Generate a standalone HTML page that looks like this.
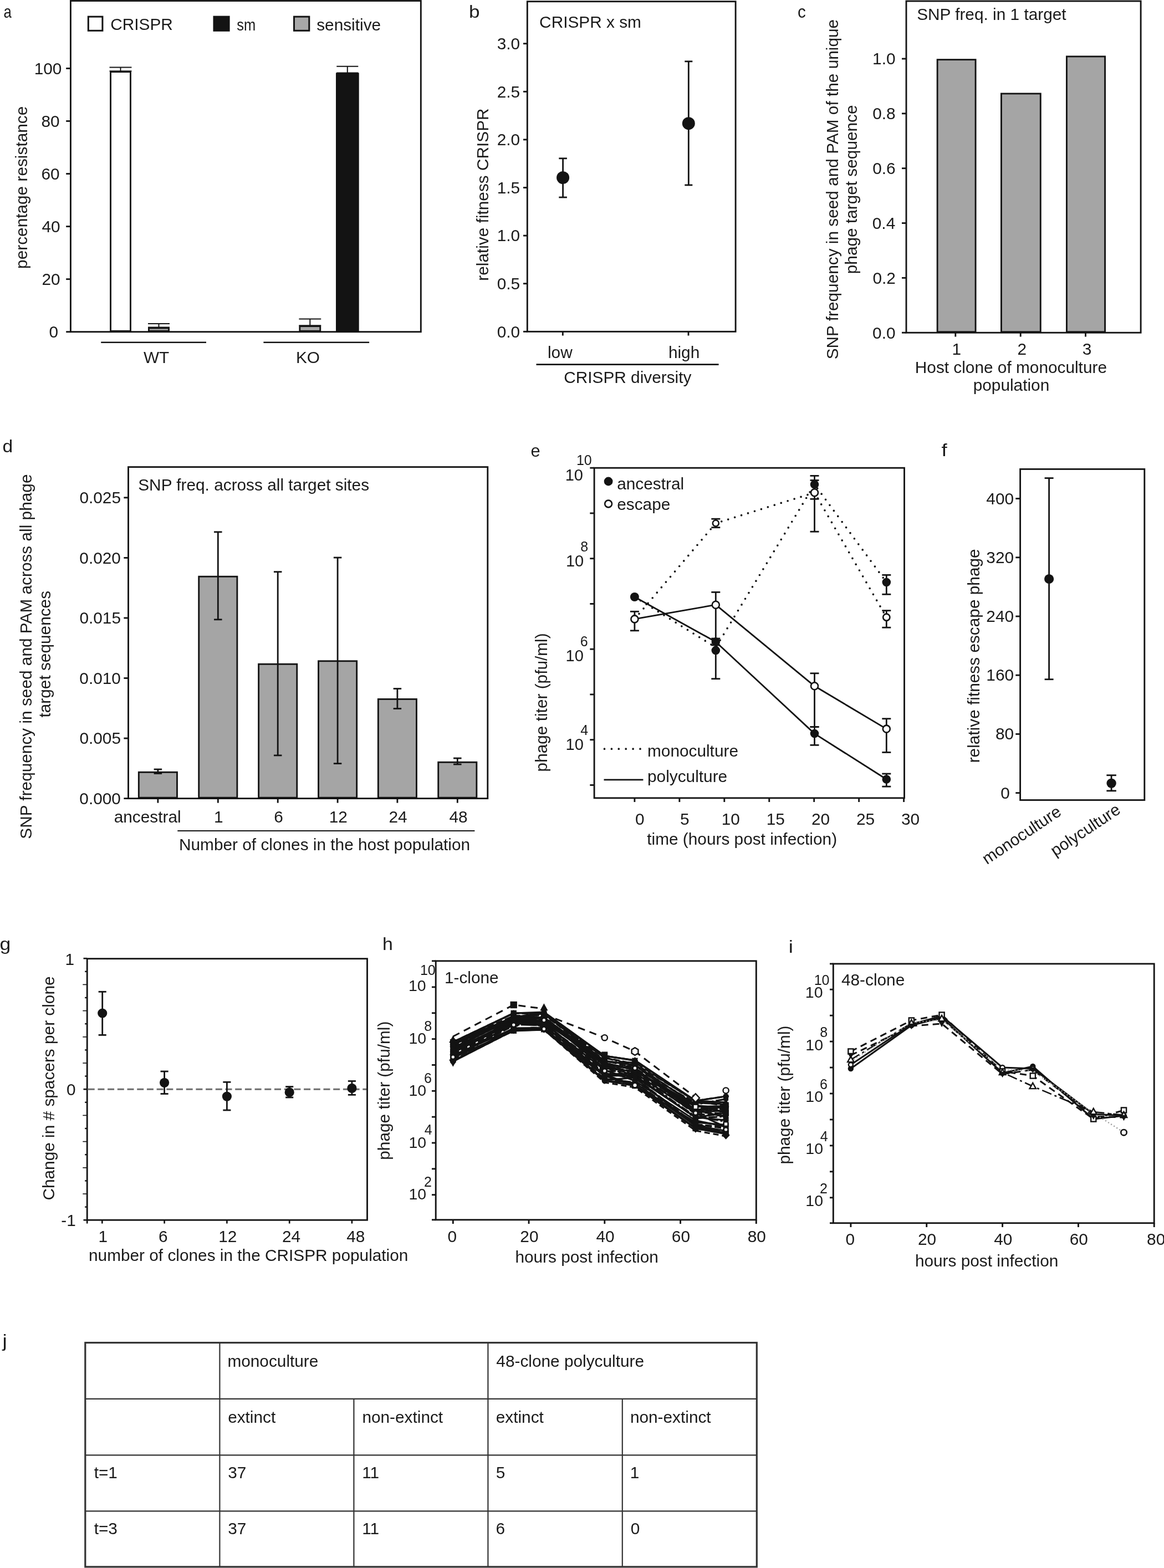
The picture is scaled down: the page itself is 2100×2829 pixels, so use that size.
<!DOCTYPE html>
<html><head><meta charset="utf-8"><title>Figure</title>
<style>html,body{margin:0;padding:0;background:#fff;} svg{display:block;} text{font-family:"Liberation Sans",Arial,Helvetica,sans-serif;}</style>
</head><body>
<svg width="2100" height="2829" viewBox="0 0 2100 2829">
<rect x="0" y="0" width="2100" height="2829" fill="#ffffff"/>
<text transform="translate(14.25,32) scale(0.807,1)" x="-9.6" y="0" font-size="32" fill="#1a1a1a">a</text>
<rect x="127.4" y="1.5" width="631.9" height="597.2" fill="none" stroke="#131313" stroke-width="2.85"/>
<line x1="119.2" y1="598.7" x2="127.4" y2="598.7" stroke="#131313" stroke-width="2.85" stroke-linecap="butt"/>
<line x1="119.2" y1="503.64" x2="127.4" y2="503.64" stroke="#131313" stroke-width="2.85" stroke-linecap="butt"/>
<line x1="119.2" y1="408.58" x2="127.4" y2="408.58" stroke="#131313" stroke-width="2.85" stroke-linecap="butt"/>
<line x1="119.2" y1="313.52" x2="127.4" y2="313.52" stroke="#131313" stroke-width="2.85" stroke-linecap="butt"/>
<line x1="119.2" y1="218.46" x2="127.4" y2="218.46" stroke="#131313" stroke-width="2.85" stroke-linecap="butt"/>
<line x1="119.2" y1="123.4" x2="127.4" y2="123.4" stroke="#131313" stroke-width="2.85" stroke-linecap="butt"/>
<text x="61.63" y="133.7" font-size="29.8" fill="#1a1a1a">100</text>
<text x="74.54" y="228.76" font-size="29.8" fill="#1a1a1a">80</text>
<text x="74.54" y="323.82" font-size="29.8" fill="#1a1a1a">60</text>
<text x="75.54" y="418.88" font-size="29.8" fill="#1a1a1a">40</text>
<text x="75.54" y="513.94" font-size="29.8" fill="#1a1a1a">20</text>
<text x="88.58" y="609" font-size="29.8" fill="#1a1a1a">0</text>
<rect x="199.53" y="129.62" width="35.95" height="467.65" fill="#ffffff" stroke="#131313" stroke-width="2.85"/>
<line x1="217.5" y1="121.4" x2="217.5" y2="128.2" stroke="#131313" stroke-width="2" stroke-linecap="butt"/>
<line x1="197.55" y1="121.4" x2="237.45" y2="121.4" stroke="#131313" stroke-width="2" stroke-linecap="butt"/>
<line x1="197.55" y1="128.2" x2="237.45" y2="128.2" stroke="#131313" stroke-width="2" stroke-linecap="butt"/>
<rect x="268.43" y="591.92" width="36.15" height="5.35" fill="#a8a8a8" stroke="#131313" stroke-width="2.85"/>
<line x1="286.5" y1="584" x2="286.5" y2="590.5" stroke="#131313" stroke-width="2" stroke-linecap="butt"/>
<line x1="267" y1="584" x2="306" y2="584" stroke="#131313" stroke-width="2" stroke-linecap="butt"/>
<line x1="267" y1="590.5" x2="306" y2="590.5" stroke="#131313" stroke-width="2" stroke-linecap="butt"/>
<rect x="540.82" y="588.62" width="36.95" height="8.65" fill="#a8a8a8" stroke="#131313" stroke-width="2.85"/>
<line x1="559.3" y1="575.4" x2="559.3" y2="587.2" stroke="#131313" stroke-width="2" stroke-linecap="butt"/>
<line x1="539.4" y1="575.4" x2="579.2" y2="575.4" stroke="#131313" stroke-width="2" stroke-linecap="butt"/>
<line x1="539.4" y1="587.2" x2="579.2" y2="587.2" stroke="#131313" stroke-width="2" stroke-linecap="butt"/>
<rect x="607.42" y="132.83" width="38.85" height="464.45" fill="#131313" stroke="#131313" stroke-width="2.85"/>
<line x1="626.8" y1="119.7" x2="626.8" y2="131.4" stroke="#131313" stroke-width="2" stroke-linecap="butt"/>
<line x1="607.3" y1="119.7" x2="646.3" y2="119.7" stroke="#131313" stroke-width="2" stroke-linecap="butt"/>
<line x1="607.3" y1="131.4" x2="646.3" y2="131.4" stroke="#131313" stroke-width="2" stroke-linecap="butt"/>
<rect x="159.3" y="30.1" width="25.6" height="25.2" fill="#ffffff" stroke="#131313" stroke-width="3"/>
<text x="199.31" y="54.3" font-size="29.8" fill="#1a1a1a">CRISPR</text>
<rect x="385.93" y="30.03" width="27.25" height="25.35" fill="#131313" stroke="#131313" stroke-width="2.85"/>
<text x="427.18" y="54.7" font-size="29.8" fill="#1a1a1a" textLength="34" lengthAdjust="spacingAndGlyphs">sm</text>
<rect x="530.5" y="30.1" width="27.3" height="25.2" fill="#a8a8a8" stroke="#131313" stroke-width="3"/>
<text x="571.18" y="54.7" font-size="29.8" fill="#1a1a1a">sensitive</text>
<line x1="182.2" y1="617.8" x2="372" y2="617.8" stroke="#131313" stroke-width="2.6" stroke-linecap="butt"/>
<line x1="475.4" y1="617.8" x2="666.1" y2="617.8" stroke="#131313" stroke-width="2.6" stroke-linecap="butt"/>
<text x="258.89" y="654.7" font-size="29.8" fill="#1a1a1a">WT</text>
<text x="533.95" y="654.7" font-size="29.8" fill="#1a1a1a">KO</text>
<text transform="translate(49.2,484.91) rotate(-90)" font-size="29.8" fill="#1a1a1a">percentage resistance</text>
<text transform="translate(856.1,32) scale(1.097,1)" x="-9.28" y="0" font-size="32" fill="#1a1a1a">b</text>
<rect x="951.3" y="2.7" width="375.8" height="595.6" fill="none" stroke="#131313" stroke-width="2.85"/>
<line x1="944" y1="598.3" x2="951.3" y2="598.3" stroke="#131313" stroke-width="2.85" stroke-linecap="butt"/>
<text x="896.7" y="608.6" font-size="29.8" fill="#1a1a1a">0.0</text>
<line x1="944" y1="511.7" x2="951.3" y2="511.7" stroke="#131313" stroke-width="2.85" stroke-linecap="butt"/>
<text x="896.77" y="522" font-size="29.8" fill="#1a1a1a">0.5</text>
<line x1="944" y1="425.1" x2="951.3" y2="425.1" stroke="#131313" stroke-width="2.85" stroke-linecap="butt"/>
<text x="896.7" y="435.4" font-size="29.8" fill="#1a1a1a">1.0</text>
<line x1="944" y1="338.5" x2="951.3" y2="338.5" stroke="#131313" stroke-width="2.85" stroke-linecap="butt"/>
<text x="896.77" y="348.8" font-size="29.8" fill="#1a1a1a">1.5</text>
<line x1="944" y1="251.9" x2="951.3" y2="251.9" stroke="#131313" stroke-width="2.85" stroke-linecap="butt"/>
<text x="896.7" y="262.2" font-size="29.8" fill="#1a1a1a">2.0</text>
<line x1="944" y1="165.3" x2="951.3" y2="165.3" stroke="#131313" stroke-width="2.85" stroke-linecap="butt"/>
<text x="896.77" y="175.6" font-size="29.8" fill="#1a1a1a">2.5</text>
<line x1="944" y1="78.7" x2="951.3" y2="78.7" stroke="#131313" stroke-width="2.85" stroke-linecap="butt"/>
<text x="896.7" y="89" font-size="29.8" fill="#1a1a1a">3.0</text>
<line x1="1015.3" y1="598.3" x2="1015.3" y2="605.5" stroke="#131313" stroke-width="2.85" stroke-linecap="butt"/>
<line x1="1242" y1="598.3" x2="1242" y2="605.5" stroke="#131313" stroke-width="2.85" stroke-linecap="butt"/>
<line x1="1015.6" y1="285.8" x2="1015.6" y2="356" stroke="#131313" stroke-width="2.8" stroke-linecap="butt"/>
<line x1="1008.3" y1="285.8" x2="1022.9" y2="285.8" stroke="#131313" stroke-width="2.8" stroke-linecap="butt"/>
<line x1="1008.3" y1="356" x2="1022.9" y2="356" stroke="#131313" stroke-width="2.8" stroke-linecap="butt"/>
<circle cx="1015.6" cy="320.5" r="11.5" fill="#131313"/>
<line x1="1242.3" y1="110.8" x2="1242.3" y2="333.9" stroke="#131313" stroke-width="2.8" stroke-linecap="butt"/>
<line x1="1235.3" y1="110.8" x2="1249.3" y2="110.8" stroke="#131313" stroke-width="2.8" stroke-linecap="butt"/>
<line x1="1235.3" y1="333.9" x2="1249.3" y2="333.9" stroke="#131313" stroke-width="2.8" stroke-linecap="butt"/>
<circle cx="1242.3" cy="222.7" r="11.5" fill="#131313"/>
<text x="973.11" y="49.8" font-size="29.8" fill="#1a1a1a">CRISPR x sm</text>
<text x="987.99" y="646" font-size="29.8" fill="#1a1a1a">low</text>
<text x="1205.91" y="646" font-size="29.8" fill="#1a1a1a">high</text>
<line x1="967.5" y1="657.6" x2="1296.6" y2="657.6" stroke="#131313" stroke-width="2.6" stroke-linecap="butt"/>
<text x="1017.21" y="690.8" font-size="29.8" fill="#1a1a1a">CRISPR diversity</text>
<text transform="translate(881.4,506.73) rotate(-90)" font-size="29.8" fill="#1a1a1a">relative fitness CRISPR</text>
<text transform="translate(1446.5,32.3) scale(0.923,1)" x="-8.24" y="0" font-size="32" fill="#1a1a1a">c</text>
<rect x="1635" y="2" width="423.1" height="598.2" fill="none" stroke="#131313" stroke-width="2.85"/>
<line x1="1627" y1="600.2" x2="1635" y2="600.2" stroke="#131313" stroke-width="2.85" stroke-linecap="butt"/>
<text x="1574.1" y="610.5" font-size="29.8" fill="#1a1a1a">0.0</text>
<line x1="1627" y1="501.36" x2="1635" y2="501.36" stroke="#131313" stroke-width="2.85" stroke-linecap="butt"/>
<text x="1574.47" y="511.66" font-size="29.8" fill="#1a1a1a">0.2</text>
<line x1="1627" y1="402.52" x2="1635" y2="402.52" stroke="#131313" stroke-width="2.85" stroke-linecap="butt"/>
<text x="1573.8" y="412.82" font-size="29.8" fill="#1a1a1a">0.4</text>
<line x1="1627" y1="303.68" x2="1635" y2="303.68" stroke="#131313" stroke-width="2.85" stroke-linecap="butt"/>
<text x="1574.24" y="313.98" font-size="29.8" fill="#1a1a1a">0.6</text>
<line x1="1627" y1="204.84" x2="1635" y2="204.84" stroke="#131313" stroke-width="2.85" stroke-linecap="butt"/>
<text x="1574.24" y="215.14" font-size="29.8" fill="#1a1a1a">0.8</text>
<line x1="1627" y1="106" x2="1635" y2="106" stroke="#131313" stroke-width="2.85" stroke-linecap="butt"/>
<text x="1574.1" y="116.3" font-size="29.8" fill="#1a1a1a">1.0</text>
<rect x="1691.12" y="107.62" width="68.95" height="491.15" fill="#a5a5a5" stroke="#131313" stroke-width="2.85"/>
<rect x="1806.42" y="168.93" width="70.85" height="429.85" fill="#a5a5a5" stroke="#131313" stroke-width="2.85"/>
<rect x="1924.42" y="101.92" width="69.15" height="496.85" fill="#a5a5a5" stroke="#131313" stroke-width="2.85"/>
<line x1="1723.8" y1="600.2" x2="1723.8" y2="607.5" stroke="#131313" stroke-width="2.85" stroke-linecap="butt"/>
<text x="1717.62" y="639.5" font-size="29.8" fill="#1a1a1a">1</text>
<line x1="1841.2" y1="600.2" x2="1841.2" y2="607.5" stroke="#131313" stroke-width="2.85" stroke-linecap="butt"/>
<text x="1835.43" y="639.5" font-size="29.8" fill="#1a1a1a">2</text>
<line x1="1958.5" y1="600.2" x2="1958.5" y2="607.5" stroke="#131313" stroke-width="2.85" stroke-linecap="butt"/>
<text x="1952.81" y="639.5" font-size="29.8" fill="#1a1a1a">3</text>
<text x="1654.16" y="36.2" font-size="29.8" fill="#1a1a1a">SNP freq. in 1 target</text>
<text x="1650.8" y="673" font-size="29.8" fill="#1a1a1a">Host clone of monoculture</text>
<text x="1755.7" y="705.4" font-size="29.8" fill="#1a1a1a">population</text>
<text transform="translate(1512,648.29) rotate(-90)" font-size="29.8" fill="#1a1a1a">SNP frequency in seed and PAM of the unique</text>
<text transform="translate(1546,494.26) rotate(-90)" font-size="29.8" fill="#1a1a1a">phage target sequence</text>
<text transform="translate(13.35,816) scale(1.049,1)" x="-8.56" y="0" font-size="32" fill="#1a1a1a">d</text>
<rect x="231.5" y="842.6" width="648.3" height="598" fill="none" stroke="#131313" stroke-width="2.85"/>
<line x1="223.4" y1="1440.6" x2="231.5" y2="1440.6" stroke="#131313" stroke-width="2.85" stroke-linecap="butt"/>
<text x="143.34" y="1450.9" font-size="29.8" fill="#1a1a1a">0.000</text>
<line x1="223.4" y1="1332.05" x2="231.5" y2="1332.05" stroke="#131313" stroke-width="2.85" stroke-linecap="butt"/>
<text x="143.42" y="1342.35" font-size="29.8" fill="#1a1a1a">0.005</text>
<line x1="223.4" y1="1223.5" x2="231.5" y2="1223.5" stroke="#131313" stroke-width="2.85" stroke-linecap="butt"/>
<text x="143.34" y="1233.8" font-size="29.8" fill="#1a1a1a">0.010</text>
<line x1="223.4" y1="1114.95" x2="231.5" y2="1114.95" stroke="#131313" stroke-width="2.85" stroke-linecap="butt"/>
<text x="143.42" y="1125.25" font-size="29.8" fill="#1a1a1a">0.015</text>
<line x1="223.4" y1="1006.4" x2="231.5" y2="1006.4" stroke="#131313" stroke-width="2.85" stroke-linecap="butt"/>
<text x="143.34" y="1016.7" font-size="29.8" fill="#1a1a1a">0.020</text>
<line x1="223.4" y1="897.85" x2="231.5" y2="897.85" stroke="#131313" stroke-width="2.85" stroke-linecap="butt"/>
<text x="143.42" y="908.15" font-size="29.8" fill="#1a1a1a">0.025</text>
<rect x="250.32" y="1393.22" width="69.15" height="45.95" fill="#a5a5a5" stroke="#131313" stroke-width="2.85"/>
<line x1="284.9" y1="1388" x2="284.9" y2="1395.5" stroke="#131313" stroke-width="2.8" stroke-linecap="butt"/>
<line x1="277.65" y1="1388" x2="292.15" y2="1388" stroke="#131313" stroke-width="2.8" stroke-linecap="butt"/>
<line x1="277.65" y1="1395.5" x2="292.15" y2="1395.5" stroke="#131313" stroke-width="2.8" stroke-linecap="butt"/>
<line x1="284.9" y1="1440.6" x2="284.9" y2="1448.6" stroke="#131313" stroke-width="2.85" stroke-linecap="butt"/>
<rect x="358.73" y="1040.22" width="69.15" height="398.95" fill="#a5a5a5" stroke="#131313" stroke-width="2.85"/>
<line x1="393.3" y1="959.8" x2="393.3" y2="1117.8" stroke="#131313" stroke-width="2.8" stroke-linecap="butt"/>
<line x1="386.05" y1="959.8" x2="400.55" y2="959.8" stroke="#131313" stroke-width="2.8" stroke-linecap="butt"/>
<line x1="386.05" y1="1117.8" x2="400.55" y2="1117.8" stroke="#131313" stroke-width="2.8" stroke-linecap="butt"/>
<line x1="393.3" y1="1440.6" x2="393.3" y2="1448.6" stroke="#131313" stroke-width="2.85" stroke-linecap="butt"/>
<rect x="466.62" y="1198.22" width="69.15" height="240.95" fill="#a5a5a5" stroke="#131313" stroke-width="2.85"/>
<line x1="501.2" y1="1031.7" x2="501.2" y2="1362.9" stroke="#131313" stroke-width="2.8" stroke-linecap="butt"/>
<line x1="493.95" y1="1031.7" x2="508.45" y2="1031.7" stroke="#131313" stroke-width="2.8" stroke-linecap="butt"/>
<line x1="493.95" y1="1362.9" x2="508.45" y2="1362.9" stroke="#131313" stroke-width="2.8" stroke-linecap="butt"/>
<line x1="501.2" y1="1440.6" x2="501.2" y2="1448.6" stroke="#131313" stroke-width="2.85" stroke-linecap="butt"/>
<rect x="574.52" y="1192.72" width="69.15" height="246.45" fill="#a5a5a5" stroke="#131313" stroke-width="2.85"/>
<line x1="609.1" y1="1006" x2="609.1" y2="1377.6" stroke="#131313" stroke-width="2.8" stroke-linecap="butt"/>
<line x1="601.85" y1="1006" x2="616.35" y2="1006" stroke="#131313" stroke-width="2.8" stroke-linecap="butt"/>
<line x1="601.85" y1="1377.6" x2="616.35" y2="1377.6" stroke="#131313" stroke-width="2.8" stroke-linecap="butt"/>
<line x1="609.1" y1="1440.6" x2="609.1" y2="1448.6" stroke="#131313" stroke-width="2.85" stroke-linecap="butt"/>
<rect x="682.32" y="1261.42" width="69.15" height="177.75" fill="#a5a5a5" stroke="#131313" stroke-width="2.85"/>
<line x1="716.9" y1="1242.5" x2="716.9" y2="1278.5" stroke="#131313" stroke-width="2.8" stroke-linecap="butt"/>
<line x1="709.65" y1="1242.5" x2="724.15" y2="1242.5" stroke="#131313" stroke-width="2.8" stroke-linecap="butt"/>
<line x1="709.65" y1="1278.5" x2="724.15" y2="1278.5" stroke="#131313" stroke-width="2.8" stroke-linecap="butt"/>
<line x1="716.9" y1="1440.6" x2="716.9" y2="1448.6" stroke="#131313" stroke-width="2.85" stroke-linecap="butt"/>
<rect x="790.72" y="1375.22" width="69.15" height="63.95" fill="#a5a5a5" stroke="#131313" stroke-width="2.85"/>
<line x1="825.3" y1="1368" x2="825.3" y2="1379" stroke="#131313" stroke-width="2.8" stroke-linecap="butt"/>
<line x1="818.05" y1="1368" x2="832.55" y2="1368" stroke="#131313" stroke-width="2.8" stroke-linecap="butt"/>
<line x1="818.05" y1="1379" x2="832.55" y2="1379" stroke="#131313" stroke-width="2.8" stroke-linecap="butt"/>
<line x1="825.3" y1="1440.6" x2="825.3" y2="1448.6" stroke="#131313" stroke-width="2.85" stroke-linecap="butt"/>
<text x="205.73" y="1483.9" font-size="29.8" fill="#1a1a1a">ancestral</text>
<text x="386.12" y="1483.9" font-size="29.8" fill="#1a1a1a">1</text>
<text x="494.32" y="1483.9" font-size="29.8" fill="#1a1a1a">6</text>
<text x="593.69" y="1483.9" font-size="29.8" fill="#1a1a1a">12</text>
<text x="701.53" y="1483.9" font-size="29.8" fill="#1a1a1a">24</text>
<text x="810.56" y="1483.9" font-size="29.8" fill="#1a1a1a">48</text>
<line x1="320.3" y1="1499" x2="856.4" y2="1499" stroke="#131313" stroke-width="2.2" stroke-linecap="butt"/>
<text x="249.26" y="885" font-size="29.8" fill="#1a1a1a">SNP freq. across all target sites</text>
<text x="323.04" y="1533.5" font-size="29.8" fill="#1a1a1a">Number of clones in the host population</text>
<text transform="translate(56.8,1513.64) rotate(-90)" font-size="29.8" fill="#1a1a1a">SNP frequency in seed and PAM across all phage</text>
<text transform="translate(91.2,1294.52) rotate(-90)" font-size="29.8" fill="#1a1a1a">target sequences</text>
<text transform="translate(966.1,823.8) scale(0.964,1)" x="-8.88" y="0" font-size="32" fill="#1a1a1a">e</text>
<rect x="1072.1" y="844.2" width="559.4" height="595.6" fill="none" stroke="#131313" stroke-width="2.85"/>
<line x1="1064.3" y1="1416.45" x2="1072.1" y2="1416.45" stroke="#131313" stroke-width="2.85" stroke-linecap="butt"/>
<line x1="1064.3" y1="1334.7" x2="1072.1" y2="1334.7" stroke="#131313" stroke-width="2.85" stroke-linecap="butt"/>
<line x1="1064.3" y1="1252.95" x2="1072.1" y2="1252.95" stroke="#131313" stroke-width="2.85" stroke-linecap="butt"/>
<line x1="1064.3" y1="1171.2" x2="1072.1" y2="1171.2" stroke="#131313" stroke-width="2.85" stroke-linecap="butt"/>
<line x1="1064.3" y1="1089.45" x2="1072.1" y2="1089.45" stroke="#131313" stroke-width="2.85" stroke-linecap="butt"/>
<line x1="1064.3" y1="1007.7" x2="1072.1" y2="1007.7" stroke="#131313" stroke-width="2.85" stroke-linecap="butt"/>
<line x1="1064.3" y1="925.95" x2="1072.1" y2="925.95" stroke="#131313" stroke-width="2.85" stroke-linecap="butt"/>
<line x1="1064.3" y1="844.2" x2="1072.1" y2="844.2" stroke="#131313" stroke-width="2.85" stroke-linecap="butt"/>
<text x="1019.73" y="867.2" font-size="29" fill="#1a1a1a">10</text>
<text x="1039.92" y="839.1" font-size="25" fill="#1a1a1a">10</text>
<text x="1020.93" y="1021.9" font-size="29" fill="#1a1a1a">10</text>
<text x="1047.14" y="995.1" font-size="25" fill="#1a1a1a">8</text>
<text x="1020.62" y="1193.2" font-size="29" fill="#1a1a1a">10</text>
<text x="1046.85" y="1165.5" font-size="25" fill="#1a1a1a">6</text>
<text x="1020.62" y="1352.8" font-size="29" fill="#1a1a1a">10</text>
<text x="1047.14" y="1325.9" font-size="25" fill="#1a1a1a">4</text>
<line x1="1144.9" y1="1439.8" x2="1144.9" y2="1447" stroke="#131313" stroke-width="2.85" stroke-linecap="butt"/>
<text x="1146.09" y="1487.5" font-size="29.8" fill="#1a1a1a">0</text>
<line x1="1225.85" y1="1439.8" x2="1225.85" y2="1447" stroke="#131313" stroke-width="2.85" stroke-linecap="butt"/>
<text x="1227.08" y="1487.5" font-size="29.8" fill="#1a1a1a">5</text>
<line x1="1306.8" y1="1439.8" x2="1306.8" y2="1447" stroke="#131313" stroke-width="2.85" stroke-linecap="butt"/>
<text x="1301.7" y="1487.5" font-size="29.8" fill="#1a1a1a">10</text>
<line x1="1387.75" y1="1439.8" x2="1387.75" y2="1447" stroke="#131313" stroke-width="2.85" stroke-linecap="butt"/>
<text x="1382.69" y="1487.5" font-size="29.8" fill="#1a1a1a">15</text>
<line x1="1468.7" y1="1439.8" x2="1468.7" y2="1447" stroke="#131313" stroke-width="2.85" stroke-linecap="butt"/>
<text x="1463.97" y="1487.5" font-size="29.8" fill="#1a1a1a">20</text>
<line x1="1549.65" y1="1439.8" x2="1549.65" y2="1447" stroke="#131313" stroke-width="2.85" stroke-linecap="butt"/>
<text x="1544.96" y="1487.5" font-size="29.8" fill="#1a1a1a">25</text>
<line x1="1630.6" y1="1439.8" x2="1630.6" y2="1447" stroke="#131313" stroke-width="2.85" stroke-linecap="butt"/>
<text x="1626.06" y="1487.5" font-size="29.8" fill="#1a1a1a">30</text>
<text x="1167.25" y="1523.8" font-size="29.8" fill="#1a1a1a">time (hours post infection)</text>
<text transform="translate(987.2,1392.42) rotate(-90)" font-size="29.8" fill="#1a1a1a">phage titer (pfu/ml)</text>
<polyline points="1144.9,1116.9 1291.3,944 1469.5,888.8 1599.3,1113.7" fill="none" stroke="#131313" stroke-width="3.7" stroke-dasharray="0 12.5" stroke-linecap="round" stroke-linejoin="round"/>
<polyline points="1144.9,1077 1291.3,1168 1469.5,874 1599.3,1050.5" fill="none" stroke="#131313" stroke-width="3.7" stroke-dasharray="0 12.5" stroke-linecap="round" stroke-linejoin="round"/>
<polyline points="1144.9,1077 1291.3,1158 1469.5,1323.6 1599.3,1406" fill="none" stroke="#131313" stroke-width="2.8" stroke-linejoin="round"/>
<polyline points="1144.9,1116.9 1291.3,1091.2 1469.5,1237.8 1599.3,1315.1" fill="none" stroke="#131313" stroke-width="2.8" stroke-linejoin="round"/>
<line x1="1144.9" y1="1103.3" x2="1144.9" y2="1137.8" stroke="#131313" stroke-width="2.8" stroke-linecap="butt"/>
<line x1="1136.9" y1="1103.3" x2="1152.9" y2="1103.3" stroke="#131313" stroke-width="2.8" stroke-linecap="butt"/>
<line x1="1136.9" y1="1137.8" x2="1152.9" y2="1137.8" stroke="#131313" stroke-width="2.8" stroke-linecap="butt"/>
<line x1="1291.3" y1="936.2" x2="1291.3" y2="951.7" stroke="#131313" stroke-width="2.8" stroke-linecap="butt"/>
<line x1="1283.3" y1="936.2" x2="1299.3" y2="936.2" stroke="#131313" stroke-width="2.8" stroke-linecap="butt"/>
<line x1="1283.3" y1="951.7" x2="1299.3" y2="951.7" stroke="#131313" stroke-width="2.8" stroke-linecap="butt"/>
<line x1="1291.3" y1="1068.4" x2="1291.3" y2="1224.7" stroke="#131313" stroke-width="2.8" stroke-linecap="butt"/>
<line x1="1283.3" y1="1068.4" x2="1299.3" y2="1068.4" stroke="#131313" stroke-width="2.8" stroke-linecap="butt"/>
<line x1="1283.3" y1="1224.7" x2="1299.3" y2="1224.7" stroke="#131313" stroke-width="2.8" stroke-linecap="butt"/>
<line x1="1291.3" y1="1152" x2="1291.3" y2="1164" stroke="#131313" stroke-width="2.8" stroke-linecap="butt"/>
<line x1="1283.3" y1="1152" x2="1299.3" y2="1152" stroke="#131313" stroke-width="2.8" stroke-linecap="butt"/>
<line x1="1283.3" y1="1164" x2="1299.3" y2="1164" stroke="#131313" stroke-width="2.8" stroke-linecap="butt"/>
<line x1="1469.5" y1="858.4" x2="1469.5" y2="959.2" stroke="#131313" stroke-width="2.8" stroke-linecap="butt"/>
<line x1="1461.5" y1="858.4" x2="1477.5" y2="858.4" stroke="#131313" stroke-width="2.8" stroke-linecap="butt"/>
<line x1="1461.5" y1="959.2" x2="1477.5" y2="959.2" stroke="#131313" stroke-width="2.8" stroke-linecap="butt"/>
<line x1="1469.5" y1="866.5" x2="1469.5" y2="900.3" stroke="#131313" stroke-width="2.8" stroke-linecap="butt"/>
<line x1="1461.5" y1="866.5" x2="1477.5" y2="866.5" stroke="#131313" stroke-width="2.8" stroke-linecap="butt"/>
<line x1="1461.5" y1="900.3" x2="1477.5" y2="900.3" stroke="#131313" stroke-width="2.8" stroke-linecap="butt"/>
<line x1="1469.5" y1="1214.8" x2="1469.5" y2="1311.4" stroke="#131313" stroke-width="2.8" stroke-linecap="butt"/>
<line x1="1461.5" y1="1214.8" x2="1477.5" y2="1214.8" stroke="#131313" stroke-width="2.8" stroke-linecap="butt"/>
<line x1="1461.5" y1="1311.4" x2="1477.5" y2="1311.4" stroke="#131313" stroke-width="2.8" stroke-linecap="butt"/>
<line x1="1469.5" y1="1311.4" x2="1469.5" y2="1344.3" stroke="#131313" stroke-width="2.8" stroke-linecap="butt"/>
<line x1="1461.5" y1="1311.4" x2="1477.5" y2="1311.4" stroke="#131313" stroke-width="2.8" stroke-linecap="butt"/>
<line x1="1461.5" y1="1344.3" x2="1477.5" y2="1344.3" stroke="#131313" stroke-width="2.8" stroke-linecap="butt"/>
<line x1="1599.3" y1="1037.4" x2="1599.3" y2="1072.3" stroke="#131313" stroke-width="2.8" stroke-linecap="butt"/>
<line x1="1591.3" y1="1037.4" x2="1607.3" y2="1037.4" stroke="#131313" stroke-width="2.8" stroke-linecap="butt"/>
<line x1="1591.3" y1="1072.3" x2="1607.3" y2="1072.3" stroke="#131313" stroke-width="2.8" stroke-linecap="butt"/>
<line x1="1599.3" y1="1101.6" x2="1599.3" y2="1132.2" stroke="#131313" stroke-width="2.8" stroke-linecap="butt"/>
<line x1="1591.3" y1="1101.6" x2="1607.3" y2="1101.6" stroke="#131313" stroke-width="2.8" stroke-linecap="butt"/>
<line x1="1591.3" y1="1132.2" x2="1607.3" y2="1132.2" stroke="#131313" stroke-width="2.8" stroke-linecap="butt"/>
<line x1="1599.3" y1="1296.7" x2="1599.3" y2="1357.4" stroke="#131313" stroke-width="2.8" stroke-linecap="butt"/>
<line x1="1591.3" y1="1296.7" x2="1607.3" y2="1296.7" stroke="#131313" stroke-width="2.8" stroke-linecap="butt"/>
<line x1="1591.3" y1="1357.4" x2="1607.3" y2="1357.4" stroke="#131313" stroke-width="2.8" stroke-linecap="butt"/>
<line x1="1599.3" y1="1396" x2="1599.3" y2="1419.1" stroke="#131313" stroke-width="2.8" stroke-linecap="butt"/>
<line x1="1591.3" y1="1396" x2="1607.3" y2="1396" stroke="#131313" stroke-width="2.8" stroke-linecap="butt"/>
<line x1="1591.3" y1="1419.1" x2="1607.3" y2="1419.1" stroke="#131313" stroke-width="2.8" stroke-linecap="butt"/>
<circle cx="1144.9" cy="1077" r="8" fill="#131313"/>
<circle cx="1144.9" cy="1116.9" r="6.5" fill="#ffffff" stroke="#131313" stroke-width="2.6"/>
<circle cx="1291.3" cy="944" r="5.5" fill="#ffffff" stroke="#131313" stroke-width="2.6"/>
<circle cx="1291.3" cy="1091.2" r="6.5" fill="#ffffff" stroke="#131313" stroke-width="2.6"/>
<circle cx="1291.3" cy="1158" r="7.8" fill="#131313"/>
<circle cx="1291.3" cy="1173.4" r="7.8" fill="#131313"/>
<circle cx="1469.5" cy="874" r="7.8" fill="#131313"/>
<circle cx="1469.5" cy="888.8" r="6.5" fill="#ffffff" stroke="#131313" stroke-width="2.6"/>
<circle cx="1469.5" cy="1237.8" r="6.5" fill="#ffffff" stroke="#131313" stroke-width="2.6"/>
<circle cx="1469.5" cy="1323.6" r="7.8" fill="#131313"/>
<circle cx="1599.3" cy="1050.5" r="7.8" fill="#131313"/>
<circle cx="1599.3" cy="1113.7" r="6.1" fill="#ffffff" stroke="#131313" stroke-width="2.6"/>
<circle cx="1599.3" cy="1315.1" r="6.5" fill="#ffffff" stroke="#131313" stroke-width="2.6"/>
<circle cx="1599.3" cy="1406" r="7.8" fill="#131313"/>
<circle cx="1097.6" cy="868.5" r="7.9" fill="#131313"/>
<text x="1113.23" y="883" font-size="29.8" fill="#1a1a1a">ancestral</text>
<circle cx="1097.6" cy="909" r="6.4" fill="#ffffff" stroke="#131313" stroke-width="2.6"/>
<text x="1113.23" y="919.5" font-size="29.8" fill="#1a1a1a">escape</text>
<polyline points="1090.5,1351.2 1155.1,1351.2" fill="none" stroke="#131313" stroke-width="3.7" stroke-dasharray="0 12.9" stroke-linecap="round" stroke-linejoin="round"/>
<text x="1167.99" y="1365" font-size="29.8" fill="#1a1a1a">monoculture</text>
<line x1="1089.5" y1="1406.9" x2="1160.4" y2="1406.9" stroke="#131313" stroke-width="2.8" stroke-linecap="butt"/>
<text x="1168.06" y="1411" font-size="29.8" fill="#1a1a1a">polyculture</text>
<text transform="translate(1704,822.9) scale(1.150,1)" x="-4.72" y="0" font-size="32" fill="#1a1a1a">f</text>
<rect x="1840.6" y="846.4" width="224.2" height="597.1" fill="none" stroke="#131313" stroke-width="2.85"/>
<line x1="1832.3" y1="1430.6" x2="1840.6" y2="1430.6" stroke="#131313" stroke-width="2.85" stroke-linecap="butt"/>
<text x="1805.28" y="1440.7" font-size="29.8" fill="#1a1a1a">0</text>
<line x1="1832.3" y1="1324.39" x2="1840.6" y2="1324.39" stroke="#131313" stroke-width="2.85" stroke-linecap="butt"/>
<text x="1795.94" y="1334.49" font-size="29.8" fill="#1a1a1a">80</text>
<line x1="1832.3" y1="1218.18" x2="1840.6" y2="1218.18" stroke="#131313" stroke-width="2.85" stroke-linecap="butt"/>
<text x="1779.33" y="1228.28" font-size="29.8" fill="#1a1a1a">160</text>
<line x1="1832.3" y1="1111.98" x2="1840.6" y2="1111.98" stroke="#131313" stroke-width="2.85" stroke-linecap="butt"/>
<text x="1779.33" y="1122.08" font-size="29.8" fill="#1a1a1a">240</text>
<line x1="1832.3" y1="1005.77" x2="1840.6" y2="1005.77" stroke="#131313" stroke-width="2.85" stroke-linecap="butt"/>
<text x="1779.33" y="1015.87" font-size="29.8" fill="#1a1a1a">320</text>
<line x1="1832.3" y1="899.56" x2="1840.6" y2="899.56" stroke="#131313" stroke-width="2.85" stroke-linecap="butt"/>
<text x="1779.33" y="909.66" font-size="29.8" fill="#1a1a1a">400</text>
<line x1="1892.6" y1="862.6" x2="1892.6" y2="1225.7" stroke="#131313" stroke-width="2.8" stroke-linecap="butt"/>
<line x1="1884.6" y1="862.6" x2="1900.6" y2="862.6" stroke="#131313" stroke-width="2.8" stroke-linecap="butt"/>
<line x1="1884.6" y1="1225.7" x2="1900.6" y2="1225.7" stroke="#131313" stroke-width="2.8" stroke-linecap="butt"/>
<circle cx="1892.6" cy="1044.5" r="8.6" fill="#131313"/>
<line x1="2005.1" y1="1398.7" x2="2005.1" y2="1426.8" stroke="#131313" stroke-width="2.8" stroke-linecap="butt"/>
<line x1="1996.35" y1="1398.7" x2="2013.85" y2="1398.7" stroke="#131313" stroke-width="2.8" stroke-linecap="butt"/>
<line x1="1996.35" y1="1426.8" x2="2013.85" y2="1426.8" stroke="#131313" stroke-width="2.8" stroke-linecap="butt"/>
<circle cx="2005.1" cy="1413.1" r="8.7" fill="#131313"/>
<text transform="translate(1766.5,1376.33) rotate(-90)" font-size="29.8" fill="#1a1a1a">relative fitness escape phage</text>
<text transform="translate(1780.4,1560.6) rotate(-33.8)" font-size="29.8" fill="#1a1a1a">monoculture</text>
<text transform="translate(1903.7,1545.8) rotate(-33.8)" font-size="29.8" fill="#1a1a1a">polyculture</text>
<text transform="translate(8.9,1714.4) scale(1.111,1)" x="-8.56" y="0" font-size="32" fill="#1a1a1a">g</text>
<rect x="157.2" y="1729.7" width="505.3" height="471.5" fill="none" stroke="#131313" stroke-width="2.85"/>
<line x1="150.5" y1="2201.2" x2="157.2" y2="2201.2" stroke="#131313" stroke-width="2.6" stroke-linecap="butt"/>
<line x1="153.2" y1="2177.6" x2="157.2" y2="2177.6" stroke="#131313" stroke-width="2.4" stroke-linecap="butt"/>
<line x1="149.3" y1="2154" x2="157.2" y2="2154" stroke="#131313" stroke-width="1.6" stroke-linecap="butt"/>
<line x1="153.2" y1="2130.4" x2="157.2" y2="2130.4" stroke="#131313" stroke-width="2.4" stroke-linecap="butt"/>
<line x1="149.3" y1="2106.8" x2="157.2" y2="2106.8" stroke="#131313" stroke-width="1.6" stroke-linecap="butt"/>
<line x1="153.2" y1="2083.2" x2="157.2" y2="2083.2" stroke="#131313" stroke-width="2.4" stroke-linecap="butt"/>
<line x1="149.3" y1="2059.6" x2="157.2" y2="2059.6" stroke="#131313" stroke-width="1.6" stroke-linecap="butt"/>
<line x1="153.2" y1="2036" x2="157.2" y2="2036" stroke="#131313" stroke-width="2.4" stroke-linecap="butt"/>
<line x1="149.3" y1="2012.4" x2="157.2" y2="2012.4" stroke="#131313" stroke-width="1.6" stroke-linecap="butt"/>
<line x1="153.2" y1="1988.8" x2="157.2" y2="1988.8" stroke="#131313" stroke-width="2.4" stroke-linecap="butt"/>
<line x1="150.5" y1="1965.2" x2="157.2" y2="1965.2" stroke="#131313" stroke-width="2.6" stroke-linecap="butt"/>
<line x1="153.2" y1="1941.6" x2="157.2" y2="1941.6" stroke="#131313" stroke-width="2.4" stroke-linecap="butt"/>
<line x1="149.3" y1="1918" x2="157.2" y2="1918" stroke="#131313" stroke-width="1.6" stroke-linecap="butt"/>
<line x1="153.2" y1="1894.4" x2="157.2" y2="1894.4" stroke="#131313" stroke-width="2.4" stroke-linecap="butt"/>
<line x1="149.3" y1="1870.8" x2="157.2" y2="1870.8" stroke="#131313" stroke-width="1.6" stroke-linecap="butt"/>
<line x1="153.2" y1="1847.2" x2="157.2" y2="1847.2" stroke="#131313" stroke-width="2.4" stroke-linecap="butt"/>
<line x1="149.3" y1="1823.6" x2="157.2" y2="1823.6" stroke="#131313" stroke-width="1.6" stroke-linecap="butt"/>
<line x1="153.2" y1="1800" x2="157.2" y2="1800" stroke="#131313" stroke-width="2.4" stroke-linecap="butt"/>
<line x1="149.3" y1="1776.4" x2="157.2" y2="1776.4" stroke="#131313" stroke-width="1.6" stroke-linecap="butt"/>
<line x1="153.2" y1="1752.8" x2="157.2" y2="1752.8" stroke="#131313" stroke-width="2.4" stroke-linecap="butt"/>
<line x1="150.5" y1="1729.2" x2="157.2" y2="1729.2" stroke="#131313" stroke-width="2.6" stroke-linecap="butt"/>
<text x="117.48" y="1740.7" font-size="29.8" fill="#1a1a1a">1</text>
<text x="119.98" y="1976.2" font-size="29.8" fill="#1a1a1a">0</text>
<text x="110.37" y="2212" font-size="29.8" fill="#1a1a1a">-1</text>
<line x1="157.2" y1="2201.2" x2="157.2" y2="2207.5" stroke="#131313" stroke-width="2.6" stroke-linecap="butt"/>
<line x1="184.3" y1="2201.2" x2="184.3" y2="2207.5" stroke="#131313" stroke-width="2.6" stroke-linecap="butt"/>
<text x="177.62" y="2240.8" font-size="29.8" fill="#1a1a1a">1</text>
<line x1="296.6" y1="2201.2" x2="296.6" y2="2207.5" stroke="#131313" stroke-width="2.6" stroke-linecap="butt"/>
<text x="285.92" y="2240.8" font-size="29.8" fill="#1a1a1a">6</text>
<line x1="409.4" y1="2201.2" x2="409.4" y2="2207.5" stroke="#131313" stroke-width="2.6" stroke-linecap="butt"/>
<text x="394.29" y="2240.8" font-size="29.8" fill="#1a1a1a">12</text>
<line x1="522.2" y1="2201.2" x2="522.2" y2="2207.5" stroke="#131313" stroke-width="2.6" stroke-linecap="butt"/>
<text x="508.93" y="2240.8" font-size="29.8" fill="#1a1a1a">24</text>
<line x1="634.9" y1="2201.2" x2="634.9" y2="2207.5" stroke="#131313" stroke-width="2.6" stroke-linecap="butt"/>
<text x="625.16" y="2240.8" font-size="29.8" fill="#1a1a1a">48</text>
<line x1="158.7" y1="1965.2" x2="661" y2="1965.2" stroke="#6e6e6e" stroke-width="3" stroke-linecap="butt" stroke-dasharray="12 5.7"/>
<line x1="184.7" y1="1789.3" x2="184.7" y2="1867.4" stroke="#131313" stroke-width="2.8" stroke-linecap="butt"/>
<line x1="177.65" y1="1789.3" x2="191.75" y2="1789.3" stroke="#131313" stroke-width="2.8" stroke-linecap="butt"/>
<line x1="177.65" y1="1867.4" x2="191.75" y2="1867.4" stroke="#131313" stroke-width="2.8" stroke-linecap="butt"/>
<circle cx="184.7" cy="1828" r="8.6" fill="#131313"/>
<line x1="296.6" y1="1933" x2="296.6" y2="1973.5" stroke="#131313" stroke-width="2.8" stroke-linecap="butt"/>
<line x1="289.55" y1="1933" x2="303.65" y2="1933" stroke="#131313" stroke-width="2.8" stroke-linecap="butt"/>
<line x1="289.55" y1="1973.5" x2="303.65" y2="1973.5" stroke="#131313" stroke-width="2.8" stroke-linecap="butt"/>
<circle cx="296.6" cy="1953.3" r="8.6" fill="#131313"/>
<line x1="409.4" y1="1952.3" x2="409.4" y2="2003" stroke="#131313" stroke-width="2.8" stroke-linecap="butt"/>
<line x1="402.35" y1="1952.3" x2="416.45" y2="1952.3" stroke="#131313" stroke-width="2.8" stroke-linecap="butt"/>
<line x1="402.35" y1="2003" x2="416.45" y2="2003" stroke="#131313" stroke-width="2.8" stroke-linecap="butt"/>
<circle cx="409.4" cy="1978.1" r="8.6" fill="#131313"/>
<line x1="522.2" y1="1960.6" x2="522.2" y2="1980" stroke="#131313" stroke-width="2.8" stroke-linecap="butt"/>
<line x1="515.15" y1="1960.6" x2="529.25" y2="1960.6" stroke="#131313" stroke-width="2.8" stroke-linecap="butt"/>
<line x1="515.15" y1="1980" x2="529.25" y2="1980" stroke="#131313" stroke-width="2.8" stroke-linecap="butt"/>
<circle cx="522.2" cy="1970.7" r="8.6" fill="#131313"/>
<line x1="634.9" y1="1950.5" x2="634.9" y2="1975.3" stroke="#131313" stroke-width="2.8" stroke-linecap="butt"/>
<line x1="627.85" y1="1950.5" x2="641.95" y2="1950.5" stroke="#131313" stroke-width="2.8" stroke-linecap="butt"/>
<line x1="627.85" y1="1975.3" x2="641.95" y2="1975.3" stroke="#131313" stroke-width="2.8" stroke-linecap="butt"/>
<circle cx="634.9" cy="1963.4" r="8.6" fill="#131313"/>
<text x="159.99" y="2274.5" font-size="29.8" fill="#1a1a1a">number of clones in the CRISPR population</text>
<text transform="translate(98,2165.59) rotate(-90)" font-size="29.8" fill="#1a1a1a">Change in # spacers per clone</text>
<text transform="translate(699.5,1714.1) scale(1.058,1)" x="-9" y="0" font-size="32" fill="#1a1a1a">h</text>
<rect x="786.2" y="1733.8" width="578.1" height="467" fill="none" stroke="#131313" stroke-width="2.85"/>
<line x1="779" y1="1733.8" x2="786.2" y2="1733.8" stroke="#131313" stroke-width="2.85" stroke-linecap="butt"/>
<line x1="779" y1="2155.7" x2="786.2" y2="2155.7" stroke="#131313" stroke-width="2.85" stroke-linecap="butt"/>
<line x1="779" y1="2108.85" x2="786.2" y2="2108.85" stroke="#131313" stroke-width="2.85" stroke-linecap="butt"/>
<line x1="779" y1="2062" x2="786.2" y2="2062" stroke="#131313" stroke-width="2.85" stroke-linecap="butt"/>
<line x1="779" y1="2015.15" x2="786.2" y2="2015.15" stroke="#131313" stroke-width="2.85" stroke-linecap="butt"/>
<line x1="779" y1="1968.3" x2="786.2" y2="1968.3" stroke="#131313" stroke-width="2.85" stroke-linecap="butt"/>
<line x1="779" y1="1921.45" x2="786.2" y2="1921.45" stroke="#131313" stroke-width="2.85" stroke-linecap="butt"/>
<line x1="779" y1="1874.6" x2="786.2" y2="1874.6" stroke="#131313" stroke-width="2.85" stroke-linecap="butt"/>
<line x1="779" y1="1827.75" x2="786.2" y2="1827.75" stroke="#131313" stroke-width="2.85" stroke-linecap="butt"/>
<line x1="779" y1="1780.9" x2="786.2" y2="1780.9" stroke="#131313" stroke-width="2.85" stroke-linecap="butt"/>
<line x1="779" y1="2200.8" x2="786.2" y2="2200.8" stroke="#131313" stroke-width="2.85" stroke-linecap="butt"/>
<text x="736.96" y="1787.9" font-size="28.5" fill="#1a1a1a">10</text>
<text x="757.92" y="1759.4" font-size="25" fill="#1a1a1a">10</text>
<text x="737.46" y="1883.2" font-size="28.5" fill="#1a1a1a">10</text>
<text x="765.24" y="1860" font-size="25" fill="#1a1a1a">8</text>
<text x="737.46" y="1976.9" font-size="28.5" fill="#1a1a1a">10</text>
<text x="765.05" y="1953.7" font-size="25" fill="#1a1a1a">6</text>
<text x="737.46" y="2070.6" font-size="28.5" fill="#1a1a1a">10</text>
<text x="765.74" y="2047.4" font-size="25" fill="#1a1a1a">4</text>
<text x="737.46" y="2164.3" font-size="28.5" fill="#1a1a1a">10</text>
<text x="765.05" y="2141.1" font-size="25" fill="#1a1a1a">2</text>
<line x1="817.3" y1="2200.8" x2="817.3" y2="2208" stroke="#131313" stroke-width="2.85" stroke-linecap="butt"/>
<text x="807.49" y="2240.8" font-size="29.8" fill="#1a1a1a">0</text>
<line x1="954.05" y1="2200.8" x2="954.05" y2="2208" stroke="#131313" stroke-width="2.85" stroke-linecap="butt"/>
<text x="938.32" y="2240.8" font-size="29.8" fill="#1a1a1a">20</text>
<line x1="1090.8" y1="2200.8" x2="1090.8" y2="2208" stroke="#131313" stroke-width="2.85" stroke-linecap="butt"/>
<text x="1075.48" y="2240.8" font-size="29.8" fill="#1a1a1a">40</text>
<line x1="1227.55" y1="2200.8" x2="1227.55" y2="2208" stroke="#131313" stroke-width="2.85" stroke-linecap="butt"/>
<text x="1211.82" y="2240.8" font-size="29.8" fill="#1a1a1a">60</text>
<line x1="1364.3" y1="2200.8" x2="1364.3" y2="2208" stroke="#131313" stroke-width="2.85" stroke-linecap="butt"/>
<text x="1348.69" y="2240.8" font-size="29.8" fill="#1a1a1a">80</text>
<text x="929.41" y="2277.8" font-size="29.8" fill="#1a1a1a">hours post infection</text>
<text transform="translate(703.2,2092.72) rotate(-90)" font-size="29.8" fill="#1a1a1a">phage titer (pfu/ml)</text>
<text x="801.97" y="1773.7" font-size="29.8" fill="#1a1a1a">1-clone</text>
<polyline points="817.3,1880 926.7,1828 981.4,1827.93 1090.8,1905 1145.5,1913.66 1254.9,1986 1309.6,1978" fill="none" stroke="#131313" stroke-width="3.2" stroke-linejoin="round"/>
<polyline points="817.3,1881.16 926.7,1828 981.4,1826.12 1090.8,1905 1145.5,1913 1254.9,1986.01 1309.6,1988.95" fill="none" stroke="#131313" stroke-width="3.2" stroke-linejoin="round"/>
<polyline points="817.3,1880 926.7,1828 981.4,1829.57 1090.8,1915.79 1145.5,1917.21 1254.9,1986.96 1309.6,1995.08" fill="none" stroke="#131313" stroke-width="3.2" stroke-linejoin="round" stroke-dasharray="12 5"/>
<polyline points="817.3,1880 926.7,1835.5 981.4,1826.22 1090.8,1905 1145.5,1913 1254.9,1986.72 1309.6,1992.78" fill="none" stroke="#131313" stroke-width="3.2" stroke-linejoin="round"/>
<polyline points="817.3,1880 926.7,1832.92 981.4,1831.66 1090.8,1908.16 1145.5,1919.45 1254.9,1986 1309.6,1978" fill="none" stroke="#131313" stroke-width="3.2" stroke-linejoin="round" stroke-dasharray="12 5"/>
<polyline points="817.3,1881.19 926.7,1835.16 981.4,1829.92 1090.8,1908.47 1145.5,1921.54 1254.9,1992.64 1309.6,1982.86" fill="none" stroke="#131313" stroke-width="3.2" stroke-linejoin="round" stroke-dasharray="16 4 4 4"/>
<polyline points="817.3,1890.48 926.7,1836.37 981.4,1828.54 1090.8,1914.52 1145.5,1921.83 1254.9,2002.59 1309.6,1996.6" fill="none" stroke="#131313" stroke-width="3.2" stroke-linejoin="round"/>
<polyline points="817.3,1884.46 926.7,1840.93 981.4,1827.9 1090.8,1913.07 1145.5,1927.49 1254.9,1989.65 1309.6,1992.12" fill="none" stroke="#131313" stroke-width="3.2" stroke-linejoin="round" stroke-dasharray="12 5"/>
<polyline points="817.3,1882.03 926.7,1837.91 981.4,1837.14 1090.8,1917.22 1145.5,1931.06 1254.9,1994.4 1309.6,1999.8" fill="none" stroke="#131313" stroke-width="3.2" stroke-linejoin="round"/>
<polyline points="817.3,1890.87 926.7,1837.75 981.4,1834.17 1090.8,1923.39 1145.5,1933.73 1254.9,1999.12 1309.6,2001.01" fill="none" stroke="#131313" stroke-width="3.2" stroke-linejoin="round" stroke-dasharray="12 5"/>
<polyline points="817.3,1884.46 926.7,1840.28 981.4,1837.58 1090.8,1927.51 1145.5,1932.86 1254.9,1996.84 1309.6,1995.5" fill="none" stroke="#131313" stroke-width="3.2" stroke-linejoin="round"/>
<polyline points="817.3,1894.03 926.7,1832.56 981.4,1836.18 1090.8,1914.02 1145.5,1921.29 1254.9,1993.85 1309.6,2007.96" fill="none" stroke="#131313" stroke-width="3.2" stroke-linejoin="round"/>
<polyline points="817.3,1887.54 926.7,1836.41 981.4,1836.24 1090.8,1928.05 1145.5,1922.01 1254.9,2003.17 1309.6,2004.07" fill="none" stroke="#131313" stroke-width="3.2" stroke-linejoin="round" stroke-dasharray="12 5"/>
<polyline points="817.3,1899.16 926.7,1844.69 981.4,1843.27 1090.8,1918.74 1145.5,1929.56 1254.9,2002.87 1309.6,2015.24" fill="none" stroke="#131313" stroke-width="3.2" stroke-linejoin="round"/>
<polyline points="817.3,1901.26 926.7,1837.11 981.4,1835.43 1090.8,1919.27 1145.5,1927.61 1254.9,2006.91 1309.6,2009.27" fill="none" stroke="#131313" stroke-width="3.2" stroke-linejoin="round" stroke-dasharray="12 5"/>
<polyline points="817.3,1892.59 926.7,1836.2 981.4,1839.51 1090.8,1923.1 1145.5,1935.13 1254.9,2017.79 1309.6,2014.09" fill="none" stroke="#131313" stroke-width="3.2" stroke-linejoin="round" stroke-dasharray="16 4 4 4"/>
<polyline points="817.3,1897.19 926.7,1845.02 981.4,1843.77 1090.8,1918.79 1145.5,1942.65 1254.9,2015.84 1309.6,2021.16" fill="none" stroke="#131313" stroke-width="3.2" stroke-linejoin="round"/>
<polyline points="817.3,1902.2 926.7,1843.11 981.4,1841.19 1090.8,1921.05 1145.5,1939.17 1254.9,2003 1309.6,2001.26" fill="none" stroke="#131313" stroke-width="3.2" stroke-linejoin="round" stroke-dasharray="12 5"/>
<polyline points="817.3,1895.01 926.7,1841.13 981.4,1841.41 1090.8,1921.49 1145.5,1928.9 1254.9,2006.3 1309.6,2004.25" fill="none" stroke="#131313" stroke-width="3.2" stroke-linejoin="round"/>
<polyline points="817.3,1898.24 926.7,1840.35 981.4,1849.22 1090.8,1932.96 1145.5,1933.02 1254.9,2009.83 1309.6,2013" fill="none" stroke="#131313" stroke-width="3.2" stroke-linejoin="round" stroke-dasharray="12 5"/>
<polyline points="817.3,1899.31 926.7,1842.57 981.4,1849.86 1090.8,1941.15 1145.5,1940.25 1254.9,2015.98 1309.6,2007.95" fill="none" stroke="#131313" stroke-width="3.2" stroke-linejoin="round"/>
<polyline points="817.3,1896.7 926.7,1846.35 981.4,1843.35 1090.8,1939.56 1145.5,1936.04 1254.9,2008.28 1309.6,2033.54" fill="none" stroke="#131313" stroke-width="3.2" stroke-linejoin="round"/>
<polyline points="817.3,1903.73 926.7,1844.81 981.4,1847.89 1090.8,1926.49 1145.5,1944.18 1254.9,2028.9 1309.6,2033.22" fill="none" stroke="#131313" stroke-width="3.2" stroke-linejoin="round" stroke-dasharray="12 5"/>
<polyline points="817.3,1907.14 926.7,1847.25 981.4,1846.6 1090.8,1930.37 1145.5,1950.06 1254.9,2021.5 1309.6,2032.98" fill="none" stroke="#131313" stroke-width="3.2" stroke-linejoin="round"/>
<polyline points="817.3,1903.07 926.7,1847.73 981.4,1853.26 1090.8,1946.46 1145.5,1952.94 1254.9,2028.49 1309.6,2036.11" fill="none" stroke="#131313" stroke-width="3.2" stroke-linejoin="round" stroke-dasharray="12 5"/>
<polyline points="817.3,1909.87 926.7,1848.74 981.4,1850.47 1090.8,1936.49 1145.5,1939.18 1254.9,2014.44 1309.6,2023.52" fill="none" stroke="#131313" stroke-width="3.2" stroke-linejoin="round" stroke-dasharray="16 4 4 4"/>
<polyline points="817.3,1904.2 926.7,1855.68 981.4,1857.06 1090.8,1939.5 1145.5,1957.28 1254.9,2035.15 1309.6,2043.95" fill="none" stroke="#131313" stroke-width="3.2" stroke-linejoin="round"/>
<polyline points="817.3,1906.74 926.7,1850.6 981.4,1848.69 1090.8,1936.36 1145.5,1945.2 1254.9,2029.39 1309.6,2044.52" fill="none" stroke="#131313" stroke-width="3.2" stroke-linejoin="round" stroke-dasharray="12 5"/>
<polyline points="817.3,1914.46 926.7,1854.89 981.4,1855.11 1090.8,1948.58 1145.5,1944.39 1254.9,2031.64 1309.6,2046" fill="none" stroke="#131313" stroke-width="3.2" stroke-linejoin="round"/>
<polyline points="817.3,1914.71 926.7,1859.32 981.4,1853.84 1090.8,1938.76 1145.5,1958.74 1254.9,2026.59 1309.6,2045.94" fill="none" stroke="#131313" stroke-width="3.2" stroke-linejoin="round" stroke-dasharray="12 5"/>
<polyline points="817.3,1915 926.7,1855.76 981.4,1853.83 1090.8,1950 1145.5,1958.95 1254.9,2024.85 1309.6,2029.67" fill="none" stroke="#131313" stroke-width="3.2" stroke-linejoin="round"/>
<polyline points="817.3,1907.99 926.7,1860 981.4,1858 1090.8,1940.9 1145.5,1959 1254.9,2036 1309.6,2046" fill="none" stroke="#131313" stroke-width="3.2" stroke-linejoin="round"/>
<polyline points="817.3,1911.85 926.7,1859.65 981.4,1852.31 1090.8,1939.89 1145.5,1959 1254.9,2036 1309.6,2044.66" fill="none" stroke="#131313" stroke-width="3.2" stroke-linejoin="round" stroke-dasharray="12 5"/>
<polyline points="817.3,1915 926.7,1859.15 981.4,1858 1090.8,1950 1145.5,1953.68 1254.9,2031.04 1309.6,2040.37" fill="none" stroke="#131313" stroke-width="3.2" stroke-linejoin="round"/>
<circle cx="817.3" cy="1880" r="5.2" fill="#131313"/>
<circle cx="926.7" cy="1828" r="5.2" fill="#131313"/>
<circle cx="981.4" cy="1827.93" r="5.2" fill="#131313"/>
<circle cx="1090.8" cy="1905" r="5.2" fill="#131313"/>
<circle cx="1145.5" cy="1913.66" r="5.2" fill="#131313"/>
<circle cx="1254.9" cy="1986" r="5.2" fill="#131313"/>
<circle cx="1309.6" cy="1978" r="5.2" fill="#131313"/>
<polygon points="817.3,1874.92 823.02,1885.32 811.58,1885.32" fill="#131313"/>
<polygon points="926.7,1821.76 932.42,1832.16 920.98,1832.16" fill="#131313"/>
<polygon points="981.4,1819.88 987.12,1830.28 975.68,1830.28" fill="#131313"/>
<polygon points="1090.8,1898.76 1096.52,1909.16 1085.08,1909.16" fill="#131313"/>
<polygon points="1145.5,1906.76 1151.22,1917.16 1139.78,1917.16" fill="#131313"/>
<polygon points="1254.9,1979.77 1260.62,1990.17 1249.18,1990.17" fill="#131313"/>
<polygon points="1309.6,1982.71 1315.32,1993.11 1303.88,1993.11" fill="#131313"/>
<rect x="812.1" y="1874.8" width="10.4" height="10.4" fill="#131313" stroke="none" stroke-width="2.85"/>
<rect x="921.5" y="1822.8" width="10.4" height="10.4" fill="#131313" stroke="none" stroke-width="2.85"/>
<rect x="976.2" y="1824.37" width="10.4" height="10.4" fill="#131313" stroke="none" stroke-width="2.85"/>
<rect x="1085.6" y="1910.59" width="10.4" height="10.4" fill="#131313" stroke="none" stroke-width="2.85"/>
<rect x="1140.3" y="1912.01" width="10.4" height="10.4" fill="#131313" stroke="none" stroke-width="2.85"/>
<rect x="1249.7" y="1981.76" width="10.4" height="10.4" fill="#131313" stroke="none" stroke-width="2.85"/>
<rect x="1304.4" y="1989.88" width="10.4" height="10.4" fill="#131313" stroke="none" stroke-width="2.85"/>
<polygon points="817.3,1886.24 823.02,1875.84 811.58,1875.84" fill="#131313"/>
<polygon points="926.7,1841.74 932.42,1831.34 920.98,1831.34" fill="#131313"/>
<polygon points="981.4,1832.46 987.12,1822.06 975.68,1822.06" fill="#131313"/>
<polygon points="1090.8,1911.24 1096.52,1900.84 1085.08,1900.84" fill="#131313"/>
<polygon points="1145.5,1919.24 1151.22,1908.84 1139.78,1908.84" fill="#131313"/>
<polygon points="1254.9,1992.96 1260.62,1982.56 1249.18,1982.56" fill="#131313"/>
<polygon points="1309.6,1999.02 1315.32,1988.62 1303.88,1988.62" fill="#131313"/>
<polygon points="817.3,1873.76 823.02,1880 817.3,1886.24 811.58,1880" fill="#131313"/>
<polygon points="926.7,1826.68 932.42,1832.92 926.7,1839.16 920.98,1832.92" fill="#131313"/>
<polygon points="981.4,1825.42 987.12,1831.66 981.4,1837.9 975.68,1831.66" fill="#131313"/>
<polygon points="1090.8,1901.92 1096.52,1908.16 1090.8,1914.4 1085.08,1908.16" fill="#131313"/>
<polygon points="1145.5,1913.21 1151.22,1919.45 1145.5,1925.69 1139.78,1919.45" fill="#131313"/>
<polygon points="1254.9,1979.76 1260.62,1986 1254.9,1992.24 1249.18,1986" fill="#131313"/>
<polygon points="1309.6,1971.76 1315.32,1978 1309.6,1984.24 1303.88,1978" fill="#131313"/>
<polygon points="821.8,1883.79 817.3,1886.39 812.8,1883.79 812.8,1878.59 817.3,1875.99 821.8,1878.59" fill="#131313"/>
<polygon points="931.2,1837.76 926.7,1840.36 922.2,1837.76 922.2,1832.56 926.7,1829.96 931.2,1832.56" fill="#131313"/>
<polygon points="985.9,1832.52 981.4,1835.12 976.9,1832.52 976.9,1827.32 981.4,1824.72 985.9,1827.32" fill="#131313"/>
<polygon points="1095.3,1911.07 1090.8,1913.67 1086.3,1911.07 1086.3,1905.87 1090.8,1903.27 1095.3,1905.87" fill="#131313"/>
<polygon points="1150,1924.14 1145.5,1926.74 1141,1924.14 1141,1918.94 1145.5,1916.34 1150,1918.94" fill="#131313"/>
<polygon points="1259.4,1995.24 1254.9,1997.84 1250.4,1995.24 1250.4,1990.04 1254.9,1987.44 1259.4,1990.04" fill="#131313"/>
<polygon points="1314.1,1985.46 1309.6,1988.06 1305.1,1985.46 1305.1,1980.26 1309.6,1977.66 1314.1,1980.26" fill="#131313"/>
<circle cx="817.3" cy="1890.48" r="5.2" fill="#131313"/>
<circle cx="926.7" cy="1836.37" r="5.2" fill="#131313"/>
<circle cx="981.4" cy="1828.54" r="5.2" fill="#131313"/>
<circle cx="1090.8" cy="1914.52" r="5.2" fill="#131313"/>
<circle cx="1145.5" cy="1921.83" r="5.2" fill="#131313"/>
<circle cx="1254.9" cy="2002.59" r="5.2" fill="#131313"/>
<circle cx="1309.6" cy="1996.6" r="5.2" fill="#131313"/>
<polygon points="817.3,1878.22 823.02,1888.62 811.58,1888.62" fill="#131313"/>
<polygon points="926.7,1834.69 932.42,1845.09 920.98,1845.09" fill="#131313"/>
<polygon points="981.4,1821.66 987.12,1832.06 975.68,1832.06" fill="#131313"/>
<polygon points="1090.8,1906.83 1096.52,1917.23 1085.08,1917.23" fill="#131313"/>
<polygon points="1145.5,1921.25 1151.22,1931.65 1139.78,1931.65" fill="#131313"/>
<polygon points="1254.9,1983.41 1260.62,1993.81 1249.18,1993.81" fill="#131313"/>
<polygon points="1309.6,1985.88 1315.32,1996.28 1303.88,1996.28" fill="#131313"/>
<rect x="812.1" y="1876.83" width="10.4" height="10.4" fill="#131313" stroke="none" stroke-width="2.85"/>
<rect x="921.5" y="1832.71" width="10.4" height="10.4" fill="#131313" stroke="none" stroke-width="2.85"/>
<rect x="976.2" y="1831.94" width="10.4" height="10.4" fill="#131313" stroke="none" stroke-width="2.85"/>
<rect x="1085.6" y="1912.02" width="10.4" height="10.4" fill="#131313" stroke="none" stroke-width="2.85"/>
<rect x="1140.3" y="1925.86" width="10.4" height="10.4" fill="#131313" stroke="none" stroke-width="2.85"/>
<rect x="1249.7" y="1989.2" width="10.4" height="10.4" fill="#131313" stroke="none" stroke-width="2.85"/>
<rect x="1304.4" y="1994.6" width="10.4" height="10.4" fill="#131313" stroke="none" stroke-width="2.85"/>
<polygon points="817.3,1897.11 823.02,1886.71 811.58,1886.71" fill="#131313"/>
<polygon points="926.7,1843.99 932.42,1833.59 920.98,1833.59" fill="#131313"/>
<polygon points="981.4,1840.41 987.12,1830.01 975.68,1830.01" fill="#131313"/>
<polygon points="1090.8,1929.63 1096.52,1919.23 1085.08,1919.23" fill="#131313"/>
<polygon points="1145.5,1939.97 1151.22,1929.57 1139.78,1929.57" fill="#131313"/>
<polygon points="1254.9,2005.36 1260.62,1994.96 1249.18,1994.96" fill="#131313"/>
<polygon points="1309.6,2007.25 1315.32,1996.85 1303.88,1996.85" fill="#131313"/>
<polygon points="817.3,1878.22 823.02,1884.46 817.3,1890.7 811.58,1884.46" fill="#131313"/>
<polygon points="926.7,1834.04 932.42,1840.28 926.7,1846.52 920.98,1840.28" fill="#131313"/>
<polygon points="981.4,1831.34 987.12,1837.58 981.4,1843.82 975.68,1837.58" fill="#131313"/>
<polygon points="1090.8,1921.27 1096.52,1927.51 1090.8,1933.75 1085.08,1927.51" fill="#131313"/>
<polygon points="1145.5,1926.62 1151.22,1932.86 1145.5,1939.1 1139.78,1932.86" fill="#131313"/>
<polygon points="1254.9,1990.6 1260.62,1996.84 1254.9,2003.08 1249.18,1996.84" fill="#131313"/>
<polygon points="1309.6,1989.26 1315.32,1995.5 1309.6,2001.74 1303.88,1995.5" fill="#131313"/>
<polygon points="821.8,1896.63 817.3,1899.23 812.8,1896.63 812.8,1891.43 817.3,1888.83 821.8,1891.43" fill="#131313"/>
<polygon points="931.2,1835.16 926.7,1837.76 922.2,1835.16 922.2,1829.96 926.7,1827.36 931.2,1829.96" fill="#131313"/>
<polygon points="985.9,1838.78 981.4,1841.38 976.9,1838.78 976.9,1833.58 981.4,1830.98 985.9,1833.58" fill="#131313"/>
<polygon points="1095.3,1916.62 1090.8,1919.22 1086.3,1916.62 1086.3,1911.42 1090.8,1908.82 1095.3,1911.42" fill="#131313"/>
<polygon points="1150,1923.89 1145.5,1926.49 1141,1923.89 1141,1918.69 1145.5,1916.09 1150,1918.69" fill="#131313"/>
<polygon points="1259.4,1996.45 1254.9,1999.05 1250.4,1996.45 1250.4,1991.25 1254.9,1988.65 1259.4,1991.25" fill="#131313"/>
<polygon points="1314.1,2010.56 1309.6,2013.16 1305.1,2010.56 1305.1,2005.36 1309.6,2002.76 1314.1,2005.36" fill="#131313"/>
<circle cx="817.3" cy="1887.54" r="5.2" fill="#131313"/>
<circle cx="926.7" cy="1836.41" r="5.2" fill="#131313"/>
<circle cx="981.4" cy="1836.24" r="5.2" fill="#131313"/>
<circle cx="1090.8" cy="1928.05" r="5.2" fill="#131313"/>
<circle cx="1145.5" cy="1922.01" r="5.2" fill="#131313"/>
<circle cx="1254.9" cy="2003.17" r="5.2" fill="#131313"/>
<circle cx="1309.6" cy="2004.07" r="5.2" fill="#131313"/>
<polygon points="817.3,1892.92 823.02,1903.32 811.58,1903.32" fill="#131313"/>
<polygon points="926.7,1838.45 932.42,1848.85 920.98,1848.85" fill="#131313"/>
<polygon points="981.4,1837.03 987.12,1847.43 975.68,1847.43" fill="#131313"/>
<polygon points="1090.8,1912.5 1096.52,1922.9 1085.08,1922.9" fill="#131313"/>
<polygon points="1145.5,1923.32 1151.22,1933.72 1139.78,1933.72" fill="#131313"/>
<polygon points="1254.9,1996.63 1260.62,2007.03 1249.18,2007.03" fill="#131313"/>
<polygon points="1309.6,2009 1315.32,2019.4 1303.88,2019.4" fill="#131313"/>
<rect x="812.1" y="1896.06" width="10.4" height="10.4" fill="#131313" stroke="none" stroke-width="2.85"/>
<rect x="921.5" y="1831.91" width="10.4" height="10.4" fill="#131313" stroke="none" stroke-width="2.85"/>
<rect x="976.2" y="1830.23" width="10.4" height="10.4" fill="#131313" stroke="none" stroke-width="2.85"/>
<rect x="1085.6" y="1914.07" width="10.4" height="10.4" fill="#131313" stroke="none" stroke-width="2.85"/>
<rect x="1140.3" y="1922.41" width="10.4" height="10.4" fill="#131313" stroke="none" stroke-width="2.85"/>
<rect x="1249.7" y="2001.71" width="10.4" height="10.4" fill="#131313" stroke="none" stroke-width="2.85"/>
<rect x="1304.4" y="2004.07" width="10.4" height="10.4" fill="#131313" stroke="none" stroke-width="2.85"/>
<polygon points="817.3,1898.83 823.02,1888.43 811.58,1888.43" fill="#131313"/>
<polygon points="926.7,1842.44 932.42,1832.04 920.98,1832.04" fill="#131313"/>
<polygon points="981.4,1845.75 987.12,1835.35 975.68,1835.35" fill="#131313"/>
<polygon points="1090.8,1929.34 1096.52,1918.94 1085.08,1918.94" fill="#131313"/>
<polygon points="1145.5,1941.37 1151.22,1930.97 1139.78,1930.97" fill="#131313"/>
<polygon points="1254.9,2024.03 1260.62,2013.63 1249.18,2013.63" fill="#131313"/>
<polygon points="1309.6,2020.33 1315.32,2009.93 1303.88,2009.93" fill="#131313"/>
<polygon points="817.3,1890.95 823.02,1897.19 817.3,1903.43 811.58,1897.19" fill="#131313"/>
<polygon points="926.7,1838.78 932.42,1845.02 926.7,1851.26 920.98,1845.02" fill="#131313"/>
<polygon points="981.4,1837.53 987.12,1843.77 981.4,1850.01 975.68,1843.77" fill="#131313"/>
<polygon points="1090.8,1912.55 1096.52,1918.79 1090.8,1925.03 1085.08,1918.79" fill="#131313"/>
<polygon points="1145.5,1936.41 1151.22,1942.65 1145.5,1948.89 1139.78,1942.65" fill="#131313"/>
<polygon points="1254.9,2009.6 1260.62,2015.84 1254.9,2022.08 1249.18,2015.84" fill="#131313"/>
<polygon points="1309.6,2014.92 1315.32,2021.16 1309.6,2027.4 1303.88,2021.16" fill="#131313"/>
<polygon points="821.8,1904.8 817.3,1907.4 812.8,1904.8 812.8,1899.6 817.3,1897 821.8,1899.6" fill="#131313"/>
<polygon points="931.2,1845.71 926.7,1848.31 922.2,1845.71 922.2,1840.51 926.7,1837.91 931.2,1840.51" fill="#131313"/>
<polygon points="985.9,1843.79 981.4,1846.39 976.9,1843.79 976.9,1838.59 981.4,1835.99 985.9,1838.59" fill="#131313"/>
<polygon points="1095.3,1923.65 1090.8,1926.25 1086.3,1923.65 1086.3,1918.45 1090.8,1915.85 1095.3,1918.45" fill="#131313"/>
<polygon points="1150,1941.77 1145.5,1944.37 1141,1941.77 1141,1936.57 1145.5,1933.97 1150,1936.57" fill="#131313"/>
<polygon points="1259.4,2005.6 1254.9,2008.2 1250.4,2005.6 1250.4,2000.4 1254.9,1997.8 1259.4,2000.4" fill="#131313"/>
<polygon points="1314.1,2003.86 1309.6,2006.46 1305.1,2003.86 1305.1,1998.66 1309.6,1996.06 1314.1,1998.66" fill="#131313"/>
<circle cx="817.3" cy="1895.01" r="5.2" fill="#131313"/>
<circle cx="926.7" cy="1841.13" r="5.2" fill="#131313"/>
<circle cx="981.4" cy="1841.41" r="5.2" fill="#131313"/>
<circle cx="1090.8" cy="1921.49" r="5.2" fill="#131313"/>
<circle cx="1145.5" cy="1928.9" r="5.2" fill="#131313"/>
<circle cx="1254.9" cy="2006.3" r="5.2" fill="#131313"/>
<circle cx="1309.6" cy="2004.25" r="5.2" fill="#131313"/>
<polygon points="817.3,1892 823.02,1902.4 811.58,1902.4" fill="#131313"/>
<polygon points="926.7,1834.11 932.42,1844.51 920.98,1844.51" fill="#131313"/>
<polygon points="981.4,1842.98 987.12,1853.38 975.68,1853.38" fill="#131313"/>
<polygon points="1090.8,1926.72 1096.52,1937.12 1085.08,1937.12" fill="#131313"/>
<polygon points="1145.5,1926.78 1151.22,1937.18 1139.78,1937.18" fill="#131313"/>
<polygon points="1254.9,2003.59 1260.62,2013.99 1249.18,2013.99" fill="#131313"/>
<polygon points="1309.6,2006.76 1315.32,2017.16 1303.88,2017.16" fill="#131313"/>
<rect x="812.1" y="1894.11" width="10.4" height="10.4" fill="#131313" stroke="none" stroke-width="2.85"/>
<rect x="921.5" y="1837.37" width="10.4" height="10.4" fill="#131313" stroke="none" stroke-width="2.85"/>
<rect x="976.2" y="1844.66" width="10.4" height="10.4" fill="#131313" stroke="none" stroke-width="2.85"/>
<rect x="1085.6" y="1935.95" width="10.4" height="10.4" fill="#131313" stroke="none" stroke-width="2.85"/>
<rect x="1140.3" y="1935.05" width="10.4" height="10.4" fill="#131313" stroke="none" stroke-width="2.85"/>
<rect x="1249.7" y="2010.78" width="10.4" height="10.4" fill="#131313" stroke="none" stroke-width="2.85"/>
<rect x="1304.4" y="2002.75" width="10.4" height="10.4" fill="#131313" stroke="none" stroke-width="2.85"/>
<polygon points="817.3,1902.94 823.02,1892.54 811.58,1892.54" fill="#131313"/>
<polygon points="926.7,1852.59 932.42,1842.19 920.98,1842.19" fill="#131313"/>
<polygon points="981.4,1849.59 987.12,1839.19 975.68,1839.19" fill="#131313"/>
<polygon points="1090.8,1945.8 1096.52,1935.4 1085.08,1935.4" fill="#131313"/>
<polygon points="1145.5,1942.28 1151.22,1931.88 1139.78,1931.88" fill="#131313"/>
<polygon points="1254.9,2014.52 1260.62,2004.12 1249.18,2004.12" fill="#131313"/>
<polygon points="1309.6,2039.78 1315.32,2029.38 1303.88,2029.38" fill="#131313"/>
<polygon points="817.3,1897.49 823.02,1903.73 817.3,1909.97 811.58,1903.73" fill="#131313"/>
<polygon points="926.7,1838.57 932.42,1844.81 926.7,1851.05 920.98,1844.81" fill="#131313"/>
<polygon points="981.4,1841.65 987.12,1847.89 981.4,1854.13 975.68,1847.89" fill="#131313"/>
<polygon points="1090.8,1920.25 1096.52,1926.49 1090.8,1932.73 1085.08,1926.49" fill="#131313"/>
<polygon points="1145.5,1937.94 1151.22,1944.18 1145.5,1950.42 1139.78,1944.18" fill="#131313"/>
<polygon points="1254.9,2022.66 1260.62,2028.9 1254.9,2035.14 1249.18,2028.9" fill="#131313"/>
<polygon points="1309.6,2026.98 1315.32,2033.22 1309.6,2039.46 1303.88,2033.22" fill="#131313"/>
<polygon points="821.8,1909.74 817.3,1912.34 812.8,1909.74 812.8,1904.54 817.3,1901.94 821.8,1904.54" fill="#131313"/>
<polygon points="931.2,1849.85 926.7,1852.45 922.2,1849.85 922.2,1844.65 926.7,1842.05 931.2,1844.65" fill="#131313"/>
<polygon points="985.9,1849.2 981.4,1851.8 976.9,1849.2 976.9,1844 981.4,1841.4 985.9,1844" fill="#131313"/>
<polygon points="1095.3,1932.97 1090.8,1935.57 1086.3,1932.97 1086.3,1927.77 1090.8,1925.17 1095.3,1927.77" fill="#131313"/>
<polygon points="1150,1952.66 1145.5,1955.26 1141,1952.66 1141,1947.46 1145.5,1944.86 1150,1947.46" fill="#131313"/>
<polygon points="1259.4,2024.1 1254.9,2026.7 1250.4,2024.1 1250.4,2018.9 1254.9,2016.3 1259.4,2018.9" fill="#131313"/>
<polygon points="1314.1,2035.58 1309.6,2038.18 1305.1,2035.58 1305.1,2030.38 1309.6,2027.78 1314.1,2030.38" fill="#131313"/>
<circle cx="817.3" cy="1903.07" r="5.2" fill="#131313"/>
<circle cx="926.7" cy="1847.73" r="5.2" fill="#131313"/>
<circle cx="981.4" cy="1853.26" r="5.2" fill="#131313"/>
<circle cx="1090.8" cy="1946.46" r="5.2" fill="#131313"/>
<circle cx="1145.5" cy="1952.94" r="5.2" fill="#131313"/>
<circle cx="1254.9" cy="2028.49" r="5.2" fill="#131313"/>
<circle cx="1309.6" cy="2036.11" r="5.2" fill="#131313"/>
<polygon points="817.3,1903.63 823.02,1914.03 811.58,1914.03" fill="#131313"/>
<polygon points="926.7,1842.5 932.42,1852.9 920.98,1852.9" fill="#131313"/>
<polygon points="981.4,1844.23 987.12,1854.63 975.68,1854.63" fill="#131313"/>
<polygon points="1090.8,1930.25 1096.52,1940.65 1085.08,1940.65" fill="#131313"/>
<polygon points="1145.5,1932.94 1151.22,1943.34 1139.78,1943.34" fill="#131313"/>
<polygon points="1254.9,2008.2 1260.62,2018.6 1249.18,2018.6" fill="#131313"/>
<polygon points="1309.6,2017.28 1315.32,2027.68 1303.88,2027.68" fill="#131313"/>
<rect x="812.1" y="1899" width="10.4" height="10.4" fill="#131313" stroke="none" stroke-width="2.85"/>
<rect x="921.5" y="1850.48" width="10.4" height="10.4" fill="#131313" stroke="none" stroke-width="2.85"/>
<rect x="976.2" y="1851.86" width="10.4" height="10.4" fill="#131313" stroke="none" stroke-width="2.85"/>
<rect x="1085.6" y="1934.3" width="10.4" height="10.4" fill="#131313" stroke="none" stroke-width="2.85"/>
<rect x="1140.3" y="1952.08" width="10.4" height="10.4" fill="#131313" stroke="none" stroke-width="2.85"/>
<rect x="1249.7" y="2029.95" width="10.4" height="10.4" fill="#131313" stroke="none" stroke-width="2.85"/>
<rect x="1304.4" y="2038.75" width="10.4" height="10.4" fill="#131313" stroke="none" stroke-width="2.85"/>
<polygon points="817.3,1912.98 823.02,1902.58 811.58,1902.58" fill="#131313"/>
<polygon points="926.7,1856.84 932.42,1846.44 920.98,1846.44" fill="#131313"/>
<polygon points="981.4,1854.93 987.12,1844.53 975.68,1844.53" fill="#131313"/>
<polygon points="1090.8,1942.6 1096.52,1932.2 1085.08,1932.2" fill="#131313"/>
<polygon points="1145.5,1951.44 1151.22,1941.04 1139.78,1941.04" fill="#131313"/>
<polygon points="1254.9,2035.63 1260.62,2025.23 1249.18,2025.23" fill="#131313"/>
<polygon points="1309.6,2050.76 1315.32,2040.36 1303.88,2040.36" fill="#131313"/>
<polygon points="817.3,1908.22 823.02,1914.46 817.3,1920.7 811.58,1914.46" fill="#131313"/>
<polygon points="926.7,1848.65 932.42,1854.89 926.7,1861.13 920.98,1854.89" fill="#131313"/>
<polygon points="981.4,1848.87 987.12,1855.11 981.4,1861.35 975.68,1855.11" fill="#131313"/>
<polygon points="1090.8,1942.34 1096.52,1948.58 1090.8,1954.82 1085.08,1948.58" fill="#131313"/>
<polygon points="1145.5,1938.15 1151.22,1944.39 1145.5,1950.63 1139.78,1944.39" fill="#131313"/>
<polygon points="1254.9,2025.4 1260.62,2031.64 1254.9,2037.88 1249.18,2031.64" fill="#131313"/>
<polygon points="1309.6,2039.76 1315.32,2046 1309.6,2052.24 1303.88,2046" fill="#131313"/>
<polygon points="821.8,1917.31 817.3,1919.91 812.8,1917.31 812.8,1912.11 817.3,1909.51 821.8,1912.11" fill="#131313"/>
<polygon points="931.2,1861.92 926.7,1864.52 922.2,1861.92 922.2,1856.72 926.7,1854.12 931.2,1856.72" fill="#131313"/>
<polygon points="985.9,1856.44 981.4,1859.04 976.9,1856.44 976.9,1851.24 981.4,1848.64 985.9,1851.24" fill="#131313"/>
<polygon points="1095.3,1941.36 1090.8,1943.96 1086.3,1941.36 1086.3,1936.16 1090.8,1933.56 1095.3,1936.16" fill="#131313"/>
<polygon points="1150,1961.34 1145.5,1963.94 1141,1961.34 1141,1956.14 1145.5,1953.54 1150,1956.14" fill="#131313"/>
<polygon points="1259.4,2029.19 1254.9,2031.79 1250.4,2029.19 1250.4,2023.99 1254.9,2021.39 1259.4,2023.99" fill="#131313"/>
<polygon points="1314.1,2048.54 1309.6,2051.14 1305.1,2048.54 1305.1,2043.34 1309.6,2040.74 1314.1,2043.34" fill="#131313"/>
<circle cx="817.3" cy="1915" r="5.2" fill="#131313"/>
<circle cx="926.7" cy="1855.76" r="5.2" fill="#131313"/>
<circle cx="981.4" cy="1853.83" r="5.2" fill="#131313"/>
<circle cx="1090.8" cy="1950" r="5.2" fill="#131313"/>
<circle cx="1145.5" cy="1958.95" r="5.2" fill="#131313"/>
<circle cx="1254.9" cy="2024.85" r="5.2" fill="#131313"/>
<circle cx="1309.6" cy="2029.67" r="5.2" fill="#131313"/>
<polygon points="817.3,1901.75 823.02,1912.15 811.58,1912.15" fill="#131313"/>
<polygon points="926.7,1853.76 932.42,1864.16 920.98,1864.16" fill="#131313"/>
<polygon points="981.4,1851.76 987.12,1862.16 975.68,1862.16" fill="#131313"/>
<polygon points="1090.8,1934.66 1096.52,1945.06 1085.08,1945.06" fill="#131313"/>
<polygon points="1145.5,1952.76 1151.22,1963.16 1139.78,1963.16" fill="#131313"/>
<polygon points="1254.9,2029.76 1260.62,2040.16 1249.18,2040.16" fill="#131313"/>
<polygon points="1309.6,2039.76 1315.32,2050.16 1303.88,2050.16" fill="#131313"/>
<rect x="812.1" y="1906.65" width="10.4" height="10.4" fill="#131313" stroke="none" stroke-width="2.85"/>
<rect x="921.5" y="1854.45" width="10.4" height="10.4" fill="#131313" stroke="none" stroke-width="2.85"/>
<rect x="976.2" y="1847.11" width="10.4" height="10.4" fill="#131313" stroke="none" stroke-width="2.85"/>
<rect x="1085.6" y="1934.69" width="10.4" height="10.4" fill="#131313" stroke="none" stroke-width="2.85"/>
<rect x="1140.3" y="1953.8" width="10.4" height="10.4" fill="#131313" stroke="none" stroke-width="2.85"/>
<rect x="1249.7" y="2030.8" width="10.4" height="10.4" fill="#131313" stroke="none" stroke-width="2.85"/>
<rect x="1304.4" y="2039.46" width="10.4" height="10.4" fill="#131313" stroke="none" stroke-width="2.85"/>
<polygon points="817.3,1921.24 823.02,1910.84 811.58,1910.84" fill="#131313"/>
<polygon points="926.7,1865.39 932.42,1854.99 920.98,1854.99" fill="#131313"/>
<polygon points="981.4,1864.24 987.12,1853.84 975.68,1853.84" fill="#131313"/>
<polygon points="1090.8,1956.24 1096.52,1945.84 1085.08,1945.84" fill="#131313"/>
<polygon points="1145.5,1959.92 1151.22,1949.52 1139.78,1949.52" fill="#131313"/>
<polygon points="1254.9,2037.28 1260.62,2026.88 1249.18,2026.88" fill="#131313"/>
<polygon points="1309.6,2046.61 1315.32,2036.21 1303.88,2036.21" fill="#131313"/>
<polyline points="817.3,1870 926.7,1813 981.4,1820" fill="none" stroke="#131313" stroke-width="3" stroke-linejoin="round" stroke-dasharray="13 9"/>
<polyline points="981.4,1830 1090.8,1872.2 1145.5,1897 1254.9,1980" fill="none" stroke="#131313" stroke-width="3" stroke-linejoin="round" stroke-dasharray="13 9"/>
<polyline points="817.3,1913 926.7,1858 981.4,1858 1090.8,1953 1145.5,1962 1254.9,2040 1309.6,2050" fill="none" stroke="#131313" stroke-width="3" stroke-linejoin="round" stroke-dasharray="10 6"/>
<polyline points="936.7,1851 971.4,1852" fill="none" stroke="#ffffff" stroke-width="1.6" stroke-linejoin="round"/>
<rect x="920.5" y="1806.8" width="12.4" height="12.4" fill="#131313" stroke="none" stroke-width="2.85"/>
<polygon points="981.4,1810.2 988.55,1823.2 974.25,1823.2" fill="#131313"/>
<polygon points="817.3,1868.2 824.45,1881.2 810.15,1881.2" fill="#131313"/>
<polygon points="817.3,1924.8 824.45,1911.8 810.15,1911.8" fill="#131313"/>
<circle cx="817.3" cy="1907" r="3.8" fill="#ffffff" stroke="#131313" stroke-width="2.4"/>
<circle cx="926.7" cy="1849" r="3.8" fill="#ffffff" stroke="#131313" stroke-width="2.4"/>
<polygon points="931.9,1861 926.7,1864 921.5,1861 921.5,1855 926.7,1852 931.9,1855" fill="#131313"/>
<circle cx="981.4" cy="1840.6" r="3.8" fill="#ffffff" stroke="#131313" stroke-width="2.4"/>
<circle cx="981.4" cy="1856.3" r="3.8" fill="#ffffff" stroke="#131313" stroke-width="2.4"/>
<circle cx="1090.8" cy="1872.2" r="5.1" fill="#ffffff" stroke="#131313" stroke-width="2.4"/>
<polygon points="1151.39,1900.4 1145.5,1903.8 1139.61,1900.4 1139.61,1893.6 1145.5,1890.2 1151.39,1893.6" fill="#ffffff" stroke="#131313" stroke-width="2.4" stroke-linejoin="miter"/>
<circle cx="1090.8" cy="1932" r="3.8" fill="#ffffff" stroke="#131313" stroke-width="2.4"/>
<circle cx="1145.5" cy="1927" r="3.8" fill="#ffffff" stroke="#131313" stroke-width="2.4"/>
<circle cx="1145.5" cy="1958" r="4.3" fill="#ffffff" stroke="#131313" stroke-width="2.4"/>
<polygon points="1254.9,1973.2 1262.05,1981 1254.9,1988.8 1247.75,1981" fill="#ffffff" stroke="#131313" stroke-width="2.4" stroke-linejoin="miter"/>
<circle cx="1254.9" cy="2008" r="3.8" fill="#ffffff" stroke="#131313" stroke-width="2.4"/>
<circle cx="1309.6" cy="1967.5" r="5.1" fill="#ffffff" stroke="#131313" stroke-width="2.4"/>
<circle cx="1309.6" cy="2038" r="3.8" fill="#ffffff" stroke="#131313" stroke-width="2.4"/>
<polygon points="1254.9,2028.2 1262.05,2036 1254.9,2043.8 1247.75,2036" fill="#131313"/>
<polygon points="1309.6,2040.2 1316.75,2048 1309.6,2055.8 1302.45,2048" fill="#131313"/>
<rect x="1085.3" y="1897.5" width="11" height="11" fill="#131313" stroke="none" stroke-width="2.85"/>
<rect x="1250.6" y="1992.7" width="8.6" height="8.6" fill="#ffffff" stroke="#131313" stroke-width="2.4"/>
<rect x="1305.8" y="2024.2" width="7.6" height="7.6" fill="#ffffff" stroke="#131313" stroke-width="2.4"/>
<text transform="translate(1426.7,1719) scale(1.143,1)" x="-3.56" y="0" font-size="32" fill="#1a1a1a">i</text>
<rect x="1503.3" y="1738.9" width="578.9" height="467.8" fill="none" stroke="#131313" stroke-width="2.85"/>
<line x1="1497" y1="1738.9" x2="1503.3" y2="1738.9" stroke="#131313" stroke-width="2.85" stroke-linecap="butt"/>
<line x1="1497" y1="2160.8" x2="1503.3" y2="2160.8" stroke="#131313" stroke-width="2.85" stroke-linecap="butt"/>
<line x1="1497" y1="2113.85" x2="1503.3" y2="2113.85" stroke="#131313" stroke-width="2.85" stroke-linecap="butt"/>
<line x1="1497" y1="2066.9" x2="1503.3" y2="2066.9" stroke="#131313" stroke-width="2.85" stroke-linecap="butt"/>
<line x1="1497" y1="2019.95" x2="1503.3" y2="2019.95" stroke="#131313" stroke-width="2.85" stroke-linecap="butt"/>
<line x1="1497" y1="1973" x2="1503.3" y2="1973" stroke="#131313" stroke-width="2.85" stroke-linecap="butt"/>
<line x1="1497" y1="1926.05" x2="1503.3" y2="1926.05" stroke="#131313" stroke-width="2.85" stroke-linecap="butt"/>
<line x1="1497" y1="1879.1" x2="1503.3" y2="1879.1" stroke="#131313" stroke-width="2.85" stroke-linecap="butt"/>
<line x1="1497" y1="1832.15" x2="1503.3" y2="1832.15" stroke="#131313" stroke-width="2.85" stroke-linecap="butt"/>
<line x1="1497" y1="1785.2" x2="1503.3" y2="1785.2" stroke="#131313" stroke-width="2.85" stroke-linecap="butt"/>
<line x1="1497" y1="2206.7" x2="1503.3" y2="2206.7" stroke="#131313" stroke-width="2.85" stroke-linecap="butt"/>
<text x="1452.86" y="1800.3" font-size="28.5" fill="#1a1a1a">10</text>
<text x="1468.72" y="1776.6" font-size="25" fill="#1a1a1a">10</text>
<text x="1453.36" y="1894.5" font-size="28.5" fill="#1a1a1a">10</text>
<text x="1479.24" y="1871.3" font-size="25" fill="#1a1a1a">8</text>
<text x="1453.36" y="1988.4" font-size="28.5" fill="#1a1a1a">10</text>
<text x="1479.05" y="1965.2" font-size="25" fill="#1a1a1a">6</text>
<text x="1453.36" y="2082.3" font-size="28.5" fill="#1a1a1a">10</text>
<text x="1479.74" y="2059.1" font-size="25" fill="#1a1a1a">4</text>
<text x="1453.36" y="2176.2" font-size="28.5" fill="#1a1a1a">10</text>
<text x="1479.05" y="2153" font-size="25" fill="#1a1a1a">2</text>
<line x1="1534.9" y1="2206.7" x2="1534.9" y2="2214" stroke="#131313" stroke-width="2.85" stroke-linecap="butt"/>
<text x="1525.59" y="2245.9" font-size="29.8" fill="#1a1a1a">0</text>
<line x1="1671.73" y1="2206.7" x2="1671.73" y2="2214" stroke="#131313" stroke-width="2.85" stroke-linecap="butt"/>
<text x="1656.01" y="2245.9" font-size="29.8" fill="#1a1a1a">20</text>
<line x1="1808.56" y1="2206.7" x2="1808.56" y2="2214" stroke="#131313" stroke-width="2.85" stroke-linecap="butt"/>
<text x="1793.25" y="2245.9" font-size="29.8" fill="#1a1a1a">40</text>
<line x1="1945.4" y1="2206.7" x2="1945.4" y2="2214" stroke="#131313" stroke-width="2.85" stroke-linecap="butt"/>
<text x="1929.67" y="2245.9" font-size="29.8" fill="#1a1a1a">60</text>
<line x1="2082.23" y1="2206.7" x2="2082.23" y2="2214" stroke="#131313" stroke-width="2.85" stroke-linecap="butt"/>
<text x="2069.11" y="2245.9" font-size="29.8" fill="#1a1a1a">80</text>
<text x="1650.91" y="2284.8" font-size="29.8" fill="#1a1a1a">hours post infection</text>
<text transform="translate(1424.8,2100.62) rotate(-90)" font-size="29.8" fill="#1a1a1a">phage titer (pfu/ml)</text>
<text x="1517.93" y="1778.3" font-size="29.8" fill="#1a1a1a">48-clone</text>
<polyline points="1534.9,1928 1644.37,1850 1699.1,1836 1808.56,1936 1863.3,1924 1972.76,2019 2027.5,2013" fill="none" stroke="#131313" stroke-width="3" stroke-linejoin="round"/>
<polyline points="1534.9,1921 1644.37,1848 1699.1,1833 1808.56,1926 1863.3,1928 1972.76,2010 2027.5,2013" fill="none" stroke="#131313" stroke-width="3" stroke-linejoin="round"/>
<polyline points="1534.9,1897 1644.37,1841 1699.1,1831 1808.56,1933 1863.3,1941 1972.76,2019 2027.5,2003" fill="none" stroke="#131313" stroke-width="3" stroke-linejoin="round" stroke-dasharray="12 8"/>
<polyline points="1534.9,1912 1644.37,1846 1699.1,1838 1808.56,1935 1863.3,1960 1972.76,2006 2027.5,2012" fill="none" stroke="#131313" stroke-width="2.6" stroke-linejoin="round" stroke-dasharray="18 6 4 6"/>
<polyline points="1534.9,1904 1644.37,1851 1699.1,1847 1808.56,1938 1863.3,1930 1972.76,2014 2027.5,2016" fill="none" stroke="#131313" stroke-width="3" stroke-linejoin="round" stroke-dasharray="12 8"/>
<polyline points="1534.9,1915 1644.37,1845 1699.1,1840 1808.56,1930 1863.3,1932 1972.76,2008 2027.5,2043" fill="none" stroke="#9a9a9a" stroke-width="2.4" stroke-linejoin="round" stroke-dasharray="2 4"/>
<circle cx="2027.5" cy="2043.2" r="5.2" fill="#ffffff" stroke="#131313" stroke-width="2.6"/>
<circle cx="1534.9" cy="1928" r="5.2" fill="#131313"/>
<circle cx="1644.37" cy="1850" r="5.2" fill="#131313"/>
<circle cx="1699.1" cy="1836" r="5.2" fill="#131313"/>
<circle cx="1808.56" cy="1936" r="5.2" fill="#131313"/>
<circle cx="1863.3" cy="1924" r="5.2" fill="#131313"/>
<circle cx="1972.76" cy="2019" r="5.2" fill="#131313"/>
<circle cx="2027.5" cy="2013" r="5.2" fill="#131313"/>
<circle cx="1534.9" cy="1921" r="4" fill="#ffffff" stroke="#131313" stroke-width="2.4"/>
<circle cx="1644.37" cy="1848" r="4" fill="#ffffff" stroke="#131313" stroke-width="2.4"/>
<circle cx="1699.1" cy="1833" r="4" fill="#ffffff" stroke="#131313" stroke-width="2.4"/>
<circle cx="1808.56" cy="1926" r="4" fill="#ffffff" stroke="#131313" stroke-width="2.4"/>
<circle cx="1863.3" cy="1928" r="4" fill="#ffffff" stroke="#131313" stroke-width="2.4"/>
<circle cx="1972.76" cy="2010" r="4" fill="#ffffff" stroke="#131313" stroke-width="2.4"/>
<circle cx="2027.5" cy="2013" r="4" fill="#ffffff" stroke="#131313" stroke-width="2.4"/>
<rect x="1530.3" y="1892.4" width="9.2" height="9.2" fill="#ffffff" stroke="#131313" stroke-width="2.4"/>
<rect x="1639.77" y="1836.4" width="9.2" height="9.2" fill="#ffffff" stroke="#131313" stroke-width="2.4"/>
<rect x="1694.5" y="1826.4" width="9.2" height="9.2" fill="#ffffff" stroke="#131313" stroke-width="2.4"/>
<rect x="1803.96" y="1928.4" width="9.2" height="9.2" fill="#ffffff" stroke="#131313" stroke-width="2.4"/>
<rect x="1858.7" y="1936.4" width="9.2" height="9.2" fill="#ffffff" stroke="#131313" stroke-width="2.4"/>
<rect x="1968.16" y="2014.4" width="9.2" height="9.2" fill="#ffffff" stroke="#131313" stroke-width="2.4"/>
<rect x="2022.9" y="1998.4" width="9.2" height="9.2" fill="#ffffff" stroke="#131313" stroke-width="2.4"/>
<polygon points="1534.9,1905.76 1540.62,1916.16 1529.18,1916.16" fill="#ffffff" stroke="#131313" stroke-width="2.4" stroke-linejoin="miter"/>
<polygon points="1644.37,1839.76 1650.09,1850.16 1638.65,1850.16" fill="#ffffff" stroke="#131313" stroke-width="2.4" stroke-linejoin="miter"/>
<polygon points="1699.1,1831.76 1704.82,1842.16 1693.38,1842.16" fill="#ffffff" stroke="#131313" stroke-width="2.4" stroke-linejoin="miter"/>
<polygon points="1808.56,1928.76 1814.28,1939.16 1802.84,1939.16" fill="#ffffff" stroke="#131313" stroke-width="2.4" stroke-linejoin="miter"/>
<polygon points="1863.3,1953.76 1869.02,1964.16 1857.58,1964.16" fill="#ffffff" stroke="#131313" stroke-width="2.4" stroke-linejoin="miter"/>
<polygon points="1972.76,1999.76 1978.48,2010.16 1967.04,2010.16" fill="#ffffff" stroke="#131313" stroke-width="2.4" stroke-linejoin="miter"/>
<polygon points="2027.5,2005.76 2033.22,2016.16 2021.78,2016.16" fill="#ffffff" stroke="#131313" stroke-width="2.4" stroke-linejoin="miter"/>
<polygon points="1534.9,1910.24 1540.62,1899.84 1529.18,1899.84" fill="#131313"/>
<polygon points="1644.37,1857.24 1650.09,1846.84 1638.65,1846.84" fill="#131313"/>
<polygon points="1699.1,1853.24 1704.82,1842.84 1693.38,1842.84" fill="#131313"/>
<polygon points="1808.56,1944.24 1814.28,1933.84 1802.84,1933.84" fill="#131313"/>
<polygon points="1863.3,1936.24 1869.02,1925.84 1857.58,1925.84" fill="#131313"/>
<polygon points="1972.76,2020.24 1978.48,2009.84 1967.04,2009.84" fill="#131313"/>
<polygon points="2027.5,2022.24 2033.22,2011.84 2021.78,2011.84" fill="#131313"/>
<text transform="translate(7,2430.4) scale(1.150,1)" x="-2.08" y="0" font-size="32" fill="#1a1a1a">j</text>
<line x1="153.8" y1="2523.8" x2="1365.3" y2="2523.8" stroke="#333333" stroke-width="2.2" stroke-linecap="butt"/>
<line x1="153.8" y1="2625.3" x2="1365.3" y2="2625.3" stroke="#333333" stroke-width="2.2" stroke-linecap="butt"/>
<line x1="153.8" y1="2726.4" x2="1365.3" y2="2726.4" stroke="#333333" stroke-width="2.2" stroke-linecap="butt"/>
<line x1="396.4" y1="2422.5" x2="396.4" y2="2826.9" stroke="#333333" stroke-width="2.2" stroke-linecap="butt"/>
<line x1="880.4" y1="2422.5" x2="880.4" y2="2826.9" stroke="#333333" stroke-width="2.2" stroke-linecap="butt"/>
<line x1="638.4" y1="2523.8" x2="638.4" y2="2826.9" stroke="#333333" stroke-width="2.2" stroke-linecap="butt"/>
<line x1="1122.8" y1="2523.8" x2="1122.8" y2="2826.9" stroke="#333333" stroke-width="2.2" stroke-linecap="butt"/>
<rect x="153.8" y="2422.5" width="1211.5" height="404.4" fill="none" stroke="#333333" stroke-width="3.2"/>
<text x="410.39" y="2465.6" font-size="29.8" fill="#1a1a1a">monoculture</text>
<text x="895.33" y="2465.6" font-size="29.8" fill="#1a1a1a">48-clone polyculture</text>
<text x="411.13" y="2566.5" font-size="29.8" fill="#1a1a1a">extinct</text>
<text x="653.39" y="2566.5" font-size="29.8" fill="#1a1a1a">non-extinct</text>
<text x="894.73" y="2566.5" font-size="29.8" fill="#1a1a1a">extinct</text>
<text x="1136.89" y="2566.5" font-size="29.8" fill="#1a1a1a">non-extinct</text>
<text x="169.65" y="2667" font-size="29.8" fill="#1a1a1a">t=1</text>
<text x="169.65" y="2768" font-size="29.8" fill="#1a1a1a">t=3</text>
<text x="411.28" y="2667" font-size="29.8" fill="#1a1a1a">37</text>
<text x="653.16" y="2667" font-size="29.8" fill="#1a1a1a">11</text>
<text x="894.81" y="2667" font-size="29.8" fill="#1a1a1a">5</text>
<text x="1136.67" y="2667" font-size="29.8" fill="#1a1a1a">1</text>
<text x="411.28" y="2768" font-size="29.8" fill="#1a1a1a">37</text>
<text x="653.16" y="2768" font-size="29.8" fill="#1a1a1a">11</text>
<text x="894.51" y="2768" font-size="29.8" fill="#1a1a1a">6</text>
<text x="1137.71" y="2768" font-size="29.8" fill="#1a1a1a">0</text>
</svg>
</body></html>
